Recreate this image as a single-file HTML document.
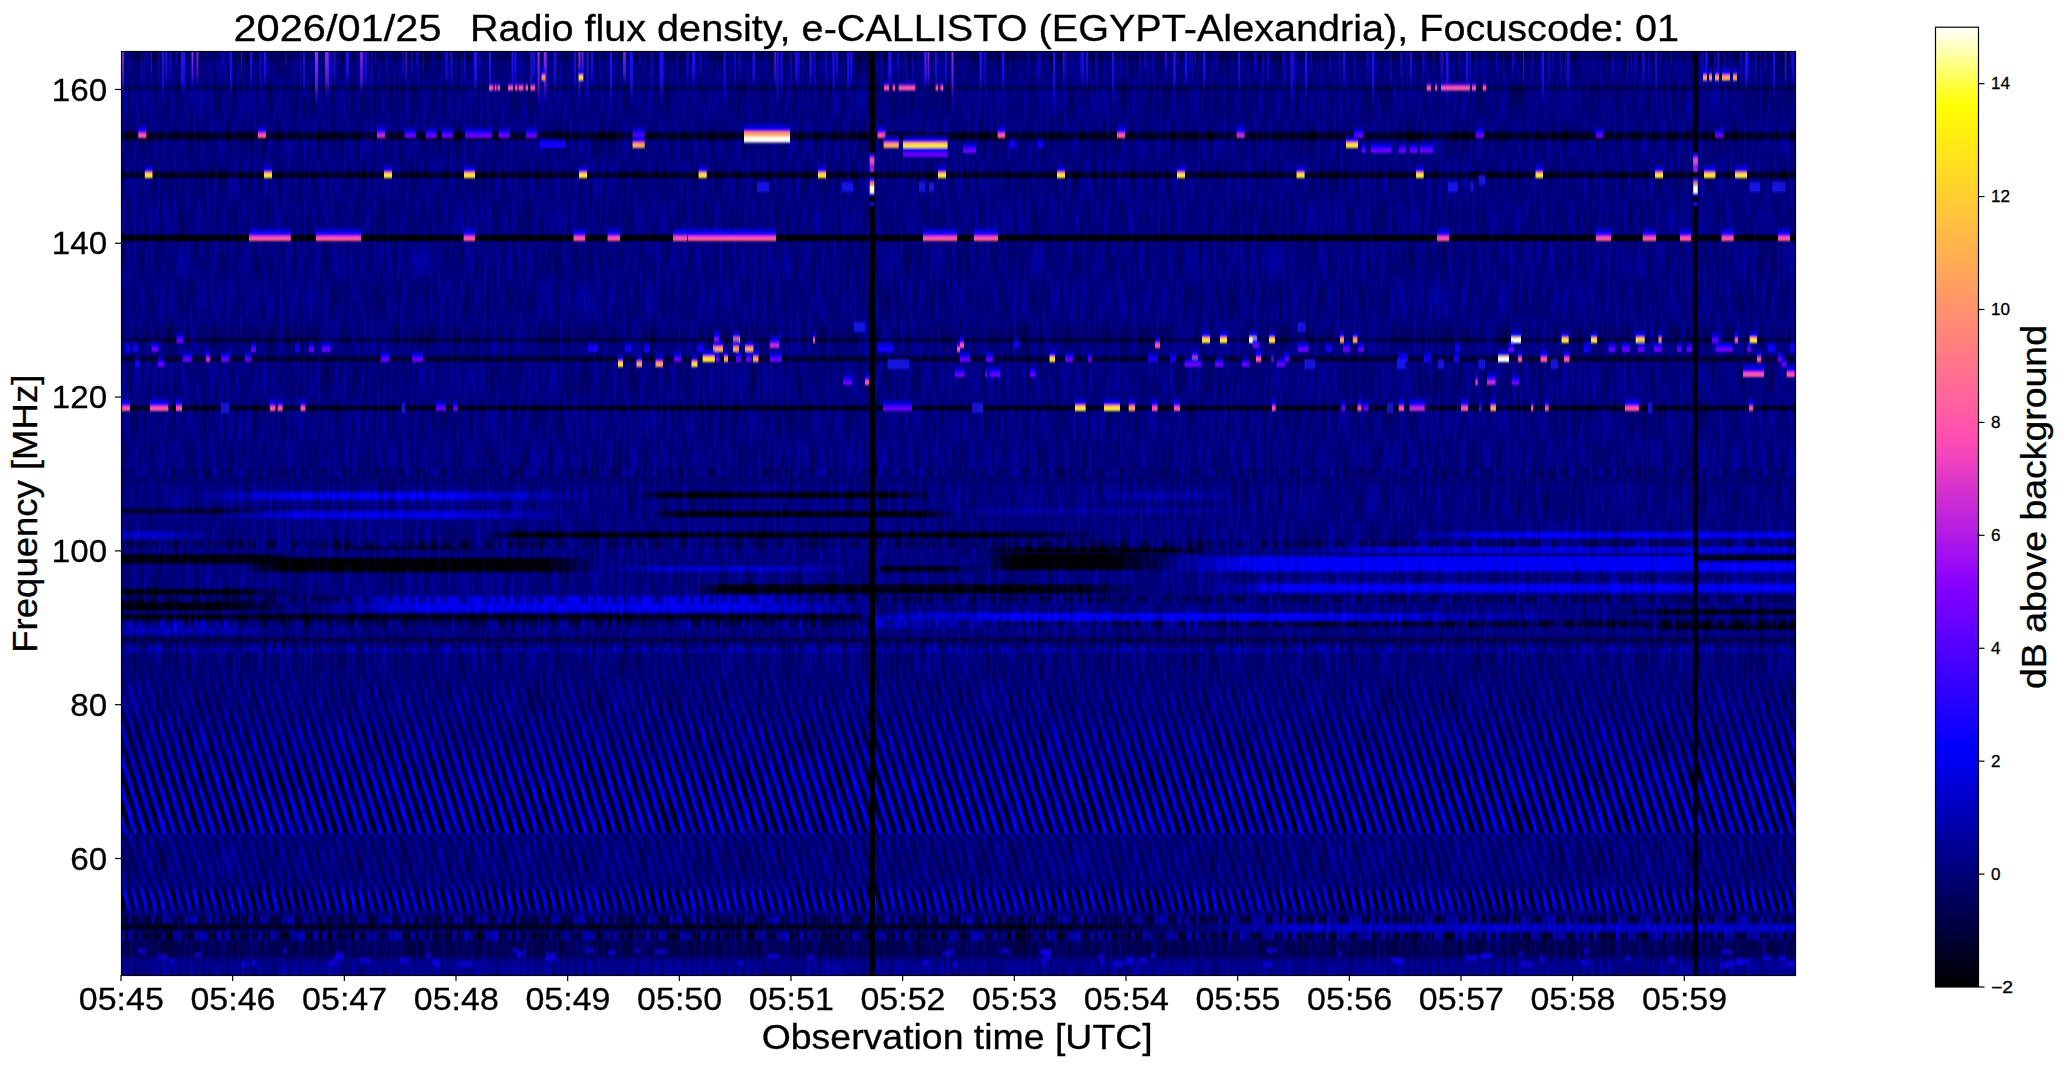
<!DOCTYPE html>
<html><head><meta charset="utf-8"><title>e-CALLISTO spectrogram</title>
<style>html,body{margin:0;padding:0;background:#fff;width:2066px;height:1067px;overflow:hidden}</style>
</head><body>
<svg width="2066" height="1067" viewBox="0 0 2066 1067" style="position:absolute;left:0;top:0"><defs><linearGradient id="cbar" x1="0" y1="0" x2="0" y2="1"><stop offset="0.0000" stop-color="#ffffff"/><stop offset="0.0167" stop-color="#ffffca"/><stop offset="0.0333" stop-color="#ffff95"/><stop offset="0.0500" stop-color="#ffff60"/><stop offset="0.0667" stop-color="#ffff2a"/><stop offset="0.0833" stop-color="#fffd02"/><stop offset="0.1000" stop-color="#fff50a"/><stop offset="0.1167" stop-color="#ffec13"/><stop offset="0.1333" stop-color="#ffe41b"/><stop offset="0.1500" stop-color="#ffdb24"/><stop offset="0.1667" stop-color="#ffd32c"/><stop offset="0.1833" stop-color="#ffca35"/><stop offset="0.2000" stop-color="#ffc23d"/><stop offset="0.2167" stop-color="#ffb946"/><stop offset="0.2333" stop-color="#ffb14e"/><stop offset="0.2500" stop-color="#ffa857"/><stop offset="0.2667" stop-color="#ffa05f"/><stop offset="0.2833" stop-color="#ff9768"/><stop offset="0.3000" stop-color="#ff8f70"/><stop offset="0.3167" stop-color="#ff8679"/><stop offset="0.3333" stop-color="#ff7e81"/><stop offset="0.3500" stop-color="#ff758a"/><stop offset="0.3667" stop-color="#ff6d92"/><stop offset="0.3833" stop-color="#ff649b"/><stop offset="0.4000" stop-color="#ff5ca3"/><stop offset="0.4167" stop-color="#ff53ac"/><stop offset="0.4333" stop-color="#fc4bb4"/><stop offset="0.4500" stop-color="#ef42bd"/><stop offset="0.4667" stop-color="#e23ac5"/><stop offset="0.4833" stop-color="#d431ce"/><stop offset="0.5000" stop-color="#c729d6"/><stop offset="0.5167" stop-color="#ba20df"/><stop offset="0.5333" stop-color="#ad18e7"/><stop offset="0.5500" stop-color="#9f0ff0"/><stop offset="0.5667" stop-color="#9207f8"/><stop offset="0.5833" stop-color="#8500ff"/><stop offset="0.6000" stop-color="#7800ff"/><stop offset="0.6167" stop-color="#6a00ff"/><stop offset="0.6333" stop-color="#5d00ff"/><stop offset="0.6500" stop-color="#5000ff"/><stop offset="0.6667" stop-color="#4200ff"/><stop offset="0.6833" stop-color="#3500ff"/><stop offset="0.7000" stop-color="#2800ff"/><stop offset="0.7167" stop-color="#1b00ff"/><stop offset="0.7333" stop-color="#0d00ff"/><stop offset="0.7500" stop-color="#0000ff"/><stop offset="0.7667" stop-color="#0000ee"/><stop offset="0.7833" stop-color="#0000dd"/><stop offset="0.8000" stop-color="#0000cc"/><stop offset="0.8167" stop-color="#0000bb"/><stop offset="0.8333" stop-color="#0000aa"/><stop offset="0.8500" stop-color="#000099"/><stop offset="0.8667" stop-color="#000088"/><stop offset="0.8833" stop-color="#000077"/><stop offset="0.9000" stop-color="#000066"/><stop offset="0.9167" stop-color="#000055"/><stop offset="0.9333" stop-color="#000044"/><stop offset="0.9500" stop-color="#000033"/><stop offset="0.9667" stop-color="#000022"/><stop offset="0.9833" stop-color="#000011"/><stop offset="1.0000" stop-color="#000000"/></linearGradient></defs><defs><filter id="vb" x="-1%" y="-5%" width="102%" height="110%"><feGaussianBlur stdDeviation="0 1.3"/></filter><clipPath id="axclip"><rect x="121" y="51" width="1675" height="924"/></clipPath><linearGradient id="s0" x1="0" y1="0" x2="1" y2="0"><stop offset="0" stop-color="#0000eb" stop-opacity="0"/><stop offset="0.244" stop-color="#0000eb"/><stop offset="0.634" stop-color="#0000eb"/><stop offset="1" stop-color="#0000eb" stop-opacity="0"/></linearGradient><linearGradient id="s1" x1="0" y1="0" x2="1" y2="0"><stop offset="0" stop-color="#00000f" stop-opacity="0"/><stop offset="0.100" stop-color="#00000f"/><stop offset="0.866" stop-color="#00000f"/><stop offset="1" stop-color="#00000f" stop-opacity="0"/></linearGradient><linearGradient id="s2" x1="0" y1="0" x2="1" y2="0"><stop offset="0" stop-color="#0000a5" stop-opacity="0"/><stop offset="0.353" stop-color="#0000a5"/><stop offset="0.647" stop-color="#0000a5"/><stop offset="1" stop-color="#0000a5" stop-opacity="0"/></linearGradient><linearGradient id="s3" x1="0" y1="0" x2="1" y2="0"><stop offset="0" stop-color="#000028" stop-opacity="1"/><stop offset="0.000" stop-color="#000028"/><stop offset="0.556" stop-color="#000028"/><stop offset="1" stop-color="#000028" stop-opacity="0"/></linearGradient><linearGradient id="s4" x1="0" y1="0" x2="1" y2="0"><stop offset="0" stop-color="#0000e1" stop-opacity="0"/><stop offset="0.222" stop-color="#0000e1"/><stop offset="0.639" stop-color="#0000e1"/><stop offset="1" stop-color="#0000e1" stop-opacity="0"/></linearGradient><linearGradient id="s5" x1="0" y1="0" x2="1" y2="0"><stop offset="0" stop-color="#00000f" stop-opacity="0"/><stop offset="0.096" stop-color="#00000f"/><stop offset="0.872" stop-color="#00000f"/><stop offset="1" stop-color="#00000f" stop-opacity="0"/></linearGradient><linearGradient id="s6" x1="0" y1="0" x2="1" y2="0"><stop offset="0" stop-color="#0000a0" stop-opacity="0"/><stop offset="0.136" stop-color="#0000a0"/><stop offset="0.796" stop-color="#0000a0"/><stop offset="1" stop-color="#0000a0" stop-opacity="0"/></linearGradient><linearGradient id="s7" x1="0" y1="0" x2="1" y2="0"><stop offset="0" stop-color="#0000c8" stop-opacity="1"/><stop offset="0.000" stop-color="#0000c8"/><stop offset="0.400" stop-color="#0000c8"/><stop offset="1" stop-color="#0000c8" stop-opacity="0"/></linearGradient><linearGradient id="s8" x1="0" y1="0" x2="1" y2="0"><stop offset="0" stop-color="#00000a" stop-opacity="0"/><stop offset="0.049" stop-color="#00000a"/><stop offset="0.837" stop-color="#00000a"/><stop offset="1" stop-color="#00000a" stop-opacity="0"/></linearGradient><linearGradient id="s9" x1="0" y1="0" x2="1" y2="0"><stop offset="0" stop-color="#0000f0" stop-opacity="0"/><stop offset="0.253" stop-color="#0000f0"/><stop offset="1.000" stop-color="#0000f0"/><stop offset="1" stop-color="#0000f0" stop-opacity="1"/></linearGradient><linearGradient id="s10" x1="0" y1="0" x2="1" y2="0"><stop offset="0" stop-color="#00003c" stop-opacity="0"/><stop offset="0.235" stop-color="#00003c"/><stop offset="0.765" stop-color="#00003c"/><stop offset="1" stop-color="#00003c" stop-opacity="0"/></linearGradient><linearGradient id="s11" x1="0" y1="0" x2="1" y2="0"><stop offset="0" stop-color="#00000a" stop-opacity="0"/><stop offset="0.165" stop-color="#00000a"/><stop offset="0.794" stop-color="#00000a"/><stop offset="1" stop-color="#00000a" stop-opacity="0"/></linearGradient><linearGradient id="s12" x1="0" y1="0" x2="1" y2="0"><stop offset="0" stop-color="#0000d7" stop-opacity="0"/><stop offset="0.160" stop-color="#0000d7"/><stop offset="1.000" stop-color="#0000d7"/><stop offset="1" stop-color="#0000d7" stop-opacity="1"/></linearGradient><linearGradient id="s13" x1="0" y1="0" x2="1" y2="0"><stop offset="0" stop-color="#00000a" stop-opacity="1"/><stop offset="0.000" stop-color="#00000a"/><stop offset="0.778" stop-color="#00000a"/><stop offset="1" stop-color="#00000a" stop-opacity="0"/></linearGradient><linearGradient id="s14" x1="0" y1="0" x2="1" y2="0"><stop offset="0" stop-color="#000003" stop-opacity="0"/><stop offset="0.111" stop-color="#000003"/><stop offset="0.833" stop-color="#000003"/><stop offset="1" stop-color="#000003" stop-opacity="0"/></linearGradient><linearGradient id="s15" x1="0" y1="0" x2="1" y2="0"><stop offset="0" stop-color="#0000c8" stop-opacity="0"/><stop offset="0.224" stop-color="#0000c8"/><stop offset="0.627" stop-color="#0000c8"/><stop offset="1" stop-color="#0000c8" stop-opacity="0"/></linearGradient><linearGradient id="s16" x1="0" y1="0" x2="1" y2="0"><stop offset="0" stop-color="#000014" stop-opacity="1"/><stop offset="0.000" stop-color="#000014"/><stop offset="0.608" stop-color="#000014"/><stop offset="1" stop-color="#000014" stop-opacity="0"/></linearGradient><linearGradient id="s17" x1="0" y1="0" x2="1" y2="0"><stop offset="0" stop-color="#000003" stop-opacity="0"/><stop offset="0.152" stop-color="#000003"/><stop offset="0.646" stop-color="#000003"/><stop offset="1" stop-color="#000003" stop-opacity="0"/></linearGradient><linearGradient id="s18" x1="0" y1="0" x2="1" y2="0"><stop offset="0" stop-color="#0000fa" stop-opacity="0"/><stop offset="0.170" stop-color="#0000fa"/><stop offset="1.000" stop-color="#0000fa"/><stop offset="1" stop-color="#0000fa" stop-opacity="1"/></linearGradient><linearGradient id="s19" x1="0" y1="0" x2="1" y2="0"><stop offset="0" stop-color="#00000f" stop-opacity="1"/><stop offset="0.000" stop-color="#00000f"/><stop offset="1.000" stop-color="#00000f"/><stop offset="1" stop-color="#00000f" stop-opacity="1"/></linearGradient><linearGradient id="s20" x1="0" y1="0" x2="1" y2="0"><stop offset="0" stop-color="#0000f5" stop-opacity="1"/><stop offset="0.000" stop-color="#0000f5"/><stop offset="1.000" stop-color="#0000f5"/><stop offset="1" stop-color="#0000f5" stop-opacity="1"/></linearGradient><linearGradient id="s21" x1="0" y1="0" x2="1" y2="0"><stop offset="0" stop-color="#00000f" stop-opacity="1"/><stop offset="0.000" stop-color="#00000f"/><stop offset="0.667" stop-color="#00000f"/><stop offset="1" stop-color="#00000f" stop-opacity="0"/></linearGradient><linearGradient id="s22" x1="0" y1="0" x2="1" y2="0"><stop offset="0" stop-color="#000008" stop-opacity="0"/><stop offset="0.066" stop-color="#000008"/><stop offset="0.823" stop-color="#000008"/><stop offset="1" stop-color="#000008" stop-opacity="0"/></linearGradient><linearGradient id="s23" x1="0" y1="0" x2="1" y2="0"><stop offset="0" stop-color="#0000f5" stop-opacity="0"/><stop offset="0.136" stop-color="#0000f5"/><stop offset="1.000" stop-color="#0000f5"/><stop offset="1" stop-color="#0000f5" stop-opacity="1"/></linearGradient><linearGradient id="s24" x1="0" y1="0" x2="1" y2="0"><stop offset="0" stop-color="#00000a" stop-opacity="1"/><stop offset="0.000" stop-color="#00000a"/><stop offset="0.647" stop-color="#00000a"/><stop offset="1" stop-color="#00000a" stop-opacity="0"/></linearGradient><linearGradient id="s25" x1="0" y1="0" x2="1" y2="0"><stop offset="0" stop-color="#0000eb" stop-opacity="0"/><stop offset="0.179" stop-color="#0000eb"/><stop offset="0.732" stop-color="#0000eb"/><stop offset="1" stop-color="#0000eb" stop-opacity="0"/></linearGradient><linearGradient id="s26" x1="0" y1="0" x2="1" y2="0"><stop offset="0" stop-color="#00000a" stop-opacity="1"/><stop offset="0.000" stop-color="#00000a"/><stop offset="0.973" stop-color="#00000a"/><stop offset="1" stop-color="#00000a" stop-opacity="0"/></linearGradient><linearGradient id="s27" x1="0" y1="0" x2="1" y2="0"><stop offset="0" stop-color="#0000f0" stop-opacity="0"/><stop offset="0.086" stop-color="#0000f0"/><stop offset="0.629" stop-color="#0000f0"/><stop offset="1" stop-color="#0000f0" stop-opacity="0"/></linearGradient><linearGradient id="s28" x1="0" y1="0" x2="1" y2="0"><stop offset="0" stop-color="#00000f" stop-opacity="0"/><stop offset="0.323" stop-color="#00000f"/><stop offset="1.000" stop-color="#00000f"/><stop offset="1" stop-color="#00000f" stop-opacity="1"/></linearGradient><linearGradient id="s29" x1="0" y1="0" x2="1" y2="0"><stop offset="0" stop-color="#000037" stop-opacity="0"/><stop offset="0.166" stop-color="#000037"/><stop offset="1.000" stop-color="#000037"/><stop offset="1" stop-color="#000037" stop-opacity="1"/></linearGradient><linearGradient id="s30" x1="0" y1="0" x2="1" y2="0"><stop offset="0" stop-color="#00000a" stop-opacity="0"/><stop offset="0.373" stop-color="#00000a"/><stop offset="1.000" stop-color="#00000a"/><stop offset="1" stop-color="#00000a" stop-opacity="1"/></linearGradient><linearGradient id="s31" x1="0" y1="0" x2="1" y2="0"><stop offset="0" stop-color="#0000b4" stop-opacity="1"/><stop offset="0.000" stop-color="#0000b4"/><stop offset="0.360" stop-color="#0000b4"/><stop offset="1" stop-color="#0000b4" stop-opacity="0"/></linearGradient><linearGradient id="s32" x1="0" y1="0" x2="1" y2="0"><stop offset="0" stop-color="#0000b4" stop-opacity="1"/><stop offset="0.000" stop-color="#0000b4"/><stop offset="0.412" stop-color="#0000b4"/><stop offset="1" stop-color="#0000b4" stop-opacity="0"/></linearGradient><linearGradient id="s33" x1="0" y1="0" x2="1" y2="0"><stop offset="0" stop-color="#0000c8" stop-opacity="1"/><stop offset="0.000" stop-color="#0000c8"/><stop offset="0.360" stop-color="#0000c8"/><stop offset="1" stop-color="#0000c8" stop-opacity="0"/></linearGradient><linearGradient id="s34" x1="0" y1="0" x2="1" y2="0"><stop offset="0" stop-color="#000019" stop-opacity="1"/><stop offset="0.000" stop-color="#000019"/><stop offset="0.925" stop-color="#000019"/><stop offset="1" stop-color="#000019" stop-opacity="0"/></linearGradient><linearGradient id="s35" x1="0" y1="0" x2="1" y2="0"><stop offset="0" stop-color="#0000d2" stop-opacity="0"/><stop offset="0.168" stop-color="#0000d2"/><stop offset="1.000" stop-color="#0000d2"/><stop offset="1" stop-color="#0000d2" stop-opacity="1"/></linearGradient><linearGradient id="s36" x1="0" y1="0" x2="1" y2="0"><stop offset="0" stop-color="#000096" stop-opacity="1"/><stop offset="0.000" stop-color="#000096"/><stop offset="1.000" stop-color="#000096"/><stop offset="1" stop-color="#000096" stop-opacity="1"/></linearGradient><filter id="tex" x="0" y="0" width="100%" height="100%" color-interpolation-filters="sRGB"><feTurbulence type="fractalNoise" baseFrequency="0.3 0.025" numOctaves="2" seed="5" result="n"/><feColorMatrix in="n" type="matrix" values="0 0 0 0 0.5  0 0 0 0 0.5  1 0 0 0 0  0 0 0 0 1" result="nb"/><feComposite in="SourceGraphic" in2="nb" operator="arithmetic" k1="0" k2="1" k3="0.55" k4="-0.275"/></filter><filter id="dblur" x="-2%" y="-5%" width="104%" height="110%"><feGaussianBlur stdDeviation="0.7 0.9"/></filter><linearGradient id="db" x1="0" y1="0" x2="0" y2="1"><stop offset="0" stop-color="#0000ff" stop-opacity="0"/><stop offset="0.5" stop-color="#0a00ff" stop-opacity="0.8"/><stop offset="0.8" stop-color="#1400ff"/><stop offset="1" stop-color="#1400ff"/></linearGradient><linearGradient id="dp" x1="0" y1="0" x2="0" y2="1"><stop offset="0" stop-color="#0000ff" stop-opacity="0"/><stop offset="0.45" stop-color="#0000ff" stop-opacity="0.9"/><stop offset="0.75" stop-color="#6a00ff"/><stop offset="1" stop-color="#6a00ff"/></linearGradient><linearGradient id="dm" x1="0" y1="0" x2="0" y2="1"><stop offset="0" stop-color="#0000ff" stop-opacity="0"/><stop offset="0.25" stop-color="#0000ff" stop-opacity="0.6"/><stop offset="0.5" stop-color="#0a00ff"/><stop offset="0.62" stop-color="#5000ff"/><stop offset="0.72" stop-color="#c02ad8"/><stop offset="1" stop-color="#c02ad8"/></linearGradient><linearGradient id="dk" x1="0" y1="0" x2="0" y2="1"><stop offset="0" stop-color="#0000ff" stop-opacity="0"/><stop offset="0.25" stop-color="#0000ff" stop-opacity="0.6"/><stop offset="0.5" stop-color="#0a00ff"/><stop offset="0.62" stop-color="#8000ff"/><stop offset="0.72" stop-color="#ff58a8"/><stop offset="1" stop-color="#ff58a8"/></linearGradient><linearGradient id="do" x1="0" y1="0" x2="0" y2="1"><stop offset="0" stop-color="#0000ff" stop-opacity="0"/><stop offset="0.25" stop-color="#0000ff" stop-opacity="0.6"/><stop offset="0.5" stop-color="#0a00ff"/><stop offset="0.62" stop-color="#e040b0"/><stop offset="0.72" stop-color="#ffa860"/><stop offset="1" stop-color="#ffa860"/></linearGradient><linearGradient id="dy" x1="0" y1="0" x2="0" y2="1"><stop offset="0" stop-color="#0000ff" stop-opacity="0"/><stop offset="0.25" stop-color="#0000ff" stop-opacity="0.6"/><stop offset="0.5" stop-color="#0a00ff"/><stop offset="0.62" stop-color="#ff6898"/><stop offset="0.72" stop-color="#ffe838"/><stop offset="1" stop-color="#ffe838"/></linearGradient><linearGradient id="dw" x1="0" y1="0" x2="0" y2="1"><stop offset="0" stop-color="#0000ff" stop-opacity="0"/><stop offset="0.25" stop-color="#0000ff" stop-opacity="0.6"/><stop offset="0.5" stop-color="#0a00ff"/><stop offset="0.62" stop-color="#ffc040"/><stop offset="0.72" stop-color="#ffffff"/><stop offset="1" stop-color="#ffffff"/></linearGradient><linearGradient id="sg" x1="0" y1="0" x2="1" y2="0"><stop offset="0" stop-color="#000010" stop-opacity="0.95"/><stop offset="0.28" stop-color="#000080" stop-opacity="0"/><stop offset="0.55" stop-color="#1818ff" stop-opacity="0.9"/><stop offset="0.8" stop-color="#000080" stop-opacity="0"/><stop offset="1" stop-color="#000010" stop-opacity="0.95"/></linearGradient><linearGradient id="st1" gradientUnits="userSpaceOnUse" x1="0" y1="0" x2="9.8" y2="0" spreadMethod="repeat" gradientTransform="skewX(17.2)"><stop offset="0.00" stop-color="#000000" stop-opacity="1.00"/><stop offset="0.10" stop-color="#000000" stop-opacity="0.89"/><stop offset="0.20" stop-color="#000000" stop-opacity="0.34"/><stop offset="0.30" stop-color="#0808ff" stop-opacity="0.31"/><stop offset="0.40" stop-color="#0808ff" stop-opacity="0.81"/><stop offset="0.50" stop-color="#0808ff" stop-opacity="1.00"/><stop offset="0.60" stop-color="#0808ff" stop-opacity="0.81"/><stop offset="0.70" stop-color="#0808ff" stop-opacity="0.31"/><stop offset="0.80" stop-color="#000000" stop-opacity="0.34"/><stop offset="0.90" stop-color="#000000" stop-opacity="0.89"/><stop offset="1.00" stop-color="#000000" stop-opacity="1.00"/></linearGradient><linearGradient id="st2" gradientUnits="userSpaceOnUse" x1="4" y1="0" x2="13.8" y2="0" spreadMethod="repeat" gradientTransform="skewX(17.2)"><stop offset="0.00" stop-color="#000000" stop-opacity="1.00"/><stop offset="0.10" stop-color="#000000" stop-opacity="0.89"/><stop offset="0.20" stop-color="#000000" stop-opacity="0.34"/><stop offset="0.30" stop-color="#0808ff" stop-opacity="0.31"/><stop offset="0.40" stop-color="#0808ff" stop-opacity="0.81"/><stop offset="0.50" stop-color="#0808ff" stop-opacity="1.00"/><stop offset="0.60" stop-color="#0808ff" stop-opacity="0.81"/><stop offset="0.70" stop-color="#0808ff" stop-opacity="0.31"/><stop offset="0.80" stop-color="#000000" stop-opacity="0.34"/><stop offset="0.90" stop-color="#000000" stop-opacity="0.89"/><stop offset="1.00" stop-color="#000000" stop-opacity="1.00"/></linearGradient><linearGradient id="st3" gradientUnits="userSpaceOnUse" x1="2" y1="0" x2="10.7" y2="0" spreadMethod="repeat" gradientTransform="skewX(13.5)"><stop offset="0.00" stop-color="#000000" stop-opacity="1.00"/><stop offset="0.10" stop-color="#000000" stop-opacity="0.89"/><stop offset="0.20" stop-color="#000000" stop-opacity="0.34"/><stop offset="0.30" stop-color="#0808ff" stop-opacity="0.31"/><stop offset="0.40" stop-color="#0808ff" stop-opacity="0.81"/><stop offset="0.50" stop-color="#0808ff" stop-opacity="1.00"/><stop offset="0.60" stop-color="#0808ff" stop-opacity="0.81"/><stop offset="0.70" stop-color="#0808ff" stop-opacity="0.31"/><stop offset="0.80" stop-color="#000000" stop-opacity="0.34"/><stop offset="0.90" stop-color="#000000" stop-opacity="0.89"/><stop offset="1.00" stop-color="#000000" stop-opacity="1.00"/></linearGradient><pattern id="spots" patternUnits="userSpaceOnUse" width="97" height="200"><rect x="0.0" y="0" width="2.0" height="8" fill="#000000" fill-opacity="0.75"/><rect x="3.5" y="0" width="2.8" height="8" fill="#000000" fill-opacity="0.61"/><rect x="8.3" y="0" width="2.0" height="8" fill="#000000" fill-opacity="1.00"/><rect x="11.5" y="0" width="3.2" height="8" fill="#000000" fill-opacity="0.86"/><rect x="15.1" y="1" width="2.8" height="6" fill="#0800ff" fill-opacity="0.51"/><rect x="19.7" y="0" width="2.8" height="8" fill="#000000" fill-opacity="0.90"/><rect x="24.0" y="0" width="2.1" height="8" fill="#000000" fill-opacity="0.95"/><rect x="27.3" y="1" width="2.9" height="6" fill="#0800ff" fill-opacity="0.59"/><rect x="32.5" y="1" width="2.3" height="6" fill="#0800ff" fill-opacity="0.48"/><rect x="37.2" y="0" width="3.3" height="8" fill="#000000" fill-opacity="0.65"/><rect x="41.0" y="0" width="3.4" height="8" fill="#000000" fill-opacity="0.85"/><rect x="45.2" y="0" width="2.5" height="8" fill="#000000" fill-opacity="0.74"/><rect x="49.1" y="1" width="2.7" height="6" fill="#0800ff" fill-opacity="0.57"/><rect x="54.1" y="1" width="3.2" height="6" fill="#0800ff" fill-opacity="0.57"/><rect x="57.7" y="1" width="3.2" height="6" fill="#0800ff" fill-opacity="0.66"/><rect x="62.4" y="0" width="2.9" height="8" fill="#000000" fill-opacity="0.93"/><rect x="66.7" y="0" width="2.1" height="8" fill="#000000" fill-opacity="0.94"/><rect x="71.3" y="1" width="1.7" height="6" fill="#0800ff" fill-opacity="0.46"/><rect x="73.3" y="1" width="2.1" height="6" fill="#0800ff" fill-opacity="0.65"/><rect x="75.5" y="0" width="2.7" height="8" fill="#000000" fill-opacity="0.89"/><rect x="79.1" y="1" width="3.3" height="6" fill="#0800ff" fill-opacity="0.50"/><rect x="84.9" y="0" width="2.1" height="8" fill="#000000" fill-opacity="0.84"/><rect x="87.1" y="0" width="1.9" height="8" fill="#000000" fill-opacity="0.84"/><rect x="89.3" y="1" width="1.6" height="6" fill="#0800ff" fill-opacity="0.43"/><rect x="93.3" y="0" width="3.3" height="8" fill="#000000" fill-opacity="0.78"/></pattern><filter id="spblur" x="0" y="-20%" width="100%" height="140%"><feGaussianBlur stdDeviation="0.6 1"/></filter><filter id="sblur" x="0" y="0" width="100%" height="100%"><feGaussianBlur stdDeviation="1.3 0.5"/></filter><linearGradient id="mg1" x1="0" y1="0" x2="0" y2="1"><stop offset="0" stop-color="#fff" stop-opacity="0"/><stop offset="0.25" stop-color="#fff" stop-opacity="0.25"/><stop offset="0.5" stop-color="#fff" stop-opacity="0.55"/><stop offset="0.7" stop-color="#fff" stop-opacity="0.85"/><stop offset="1" stop-color="#fff" stop-opacity="0.9"/></linearGradient><mask id="m1" maskUnits="userSpaceOnUse" x="121" y="655" width="1675" height="180"><rect x="121" y="655" width="1675" height="179" fill="url(#mg1)"/></mask><linearGradient id="sfade" x1="0" y1="0" x2="0" y2="1"><stop offset="0" stop-color="#2a10ff" stop-opacity="1"/><stop offset="0.6" stop-color="#2010ff" stop-opacity="0.75"/><stop offset="1" stop-color="#1000ff" stop-opacity="0"/></linearGradient><linearGradient id="sfadep" x1="0" y1="0" x2="0" y2="1"><stop offset="0" stop-color="#a030ff" stop-opacity="1"/><stop offset="0.6" stop-color="#7020ff" stop-opacity="0.75"/><stop offset="1" stop-color="#1000ff" stop-opacity="0"/></linearGradient></defs><g clip-path="url(#axclip)"><g filter="url(#tex)"><rect x="121" y="51" width="1675" height="924" fill="#000080"/><g filter="url(#vb)"><rect x="121" y="53.0" width="1675" height="8" fill="#000064"/><rect x="121" y="86.0" width="1675" height="4" fill="#000050"/><rect x="121" y="132.0" width="1675" height="8" fill="#000028"/><rect x="121" y="172.0" width="1675" height="6" fill="#000023"/><rect x="121" y="235.0" width="1675" height="6" fill="#000005"/><rect x="121" y="327.0" width="1675" height="10" fill="#000073"/><rect x="121" y="338.0" width="1675" height="4" fill="#000037"/><rect x="121" y="356.5" width="1675" height="5" fill="#00002d"/><rect x="121" y="405.5" width="1675" height="5" fill="#00001e"/><rect x="121" y="476.0" width="1675" height="8" fill="#000073"/><rect x="121" y="541.0" width="1675" height="6" fill="#00006e"/><rect x="121" y="596.0" width="1675" height="6" fill="#000069"/><rect x="121" y="619.5" width="1675" height="5" fill="#000064"/><rect x="121" y="637.5" width="1675" height="5" fill="#000046"/><rect x="121" y="648.0" width="1675" height="4" fill="#0000a5"/><rect x="121" y="922.0" width="1675" height="8" fill="#000073"/><rect x="121" y="941.0" width="1675" height="16" fill="#00005f"/><rect x="190" y="492.0" width="410" height="8" fill="url(#s0)"/><rect x="636" y="492.0" width="299" height="6" fill="url(#s1)"/><rect x="1080" y="492.0" width="170" height="8" fill="url(#s2)"/><rect x="120" y="508.5" width="180" height="5" fill="url(#s3)"/><rect x="220" y="511.0" width="360" height="8" fill="url(#s4)"/><rect x="648" y="511.0" width="312" height="6" fill="url(#s5)"/><rect x="956" y="508.5" width="294" height="5" fill="url(#s6)"/><rect x="120" y="531.0" width="100" height="8" fill="url(#s7)"/><rect x="486" y="532.0" width="614" height="6" fill="url(#s8)"/><rect x="1400" y="532.0" width="396" height="6" fill="url(#s9)"/><rect x="320" y="545.5" width="170" height="5" fill="url(#s10)"/><rect x="977" y="547.0" width="243" height="6" fill="url(#s11)"/><rect x="1296" y="547.0" width="500" height="6" fill="url(#s12)"/><rect x="120" y="554.5" width="180" height="9" fill="url(#s13)"/><rect x="240" y="558.0" width="360" height="14" fill="url(#s14)"/><rect x="600" y="566.0" width="268" height="6" fill="url(#s15)"/><rect x="880" y="566.0" width="102" height="6" fill="url(#s16)"/><rect x="982" y="554.0" width="198" height="16" fill="url(#s17)"/><rect x="1165" y="556.5" width="528" height="15" fill="url(#s18)"/><rect x="1698" y="555.5" width="98" height="5" fill="url(#s19)"/><rect x="1698" y="562.0" width="98" height="10" fill="url(#s20)"/><rect x="120" y="589.0" width="180" height="6" fill="url(#s21)"/><rect x="694" y="584.5" width="452" height="9" fill="url(#s22)"/><rect x="1207" y="583.5" width="589" height="9" fill="url(#s23)"/><rect x="120" y="601.5" width="170" height="9" fill="url(#s24)"/><rect x="320" y="596.0" width="560" height="16" fill="url(#s25)"/><rect x="120" y="614.5" width="750" height="5" fill="url(#s26)"/><rect x="880" y="613.0" width="700" height="8" fill="url(#s27)"/><rect x="1610" y="609.5" width="186" height="5" fill="url(#s28)"/><rect x="1195" y="621.0" width="601" height="6" fill="url(#s29)"/><rect x="1635" y="624.5" width="161" height="5" fill="url(#s30)"/><rect x="875" y="615.0" width="125" height="10" fill="url(#s31)"/><rect x="120" y="622.0" width="170" height="12" fill="url(#s32)"/><rect x="875" y="616.0" width="125" height="12" fill="url(#s33)"/><rect x="120" y="924.5" width="1060" height="5" fill="url(#s34)"/><rect x="1200" y="924.0" width="596" height="8" fill="url(#s35)"/><rect x="120" y="961.0" width="1676" height="14" fill="url(#s36)"/><rect x="121" y="655" width="1675" height="320" fill="#000000" fill-opacity="0.06"/><g mask="url(#m1)"><rect x="121" y="655" width="1675" height="179" fill="url(#st1)"/></g><rect x="121" y="834" width="1675" height="54" fill="url(#st2)" fill-opacity="0.22"/><linearGradient id="mg3" x1="0" y1="0" x2="0" y2="1"><stop offset="0" stop-color="#fff" stop-opacity="0"/><stop offset="0.3" stop-color="#fff" stop-opacity="0.9"/><stop offset="0.75" stop-color="#fff" stop-opacity="0.9"/><stop offset="1" stop-color="#fff" stop-opacity="0"/></linearGradient><mask id="m3" maskUnits="userSpaceOnUse" x="121" y="884" width="1675" height="32"><rect x="121" y="884" width="1675" height="31" fill="url(#mg3)"/></mask><g mask="url(#m3)"><rect x="121" y="884" width="1675" height="31" fill="url(#st3)"/></g><rect x="24" y="0" width="1772" height="7" fill="url(#spots)" fill-opacity="0.9" filter="url(#spblur)" transform="translate(39 916)"/><rect x="24" y="0" width="1772" height="8" fill="url(#spots)" fill-opacity="0.9" filter="url(#spblur)" transform="translate(49 932)"/><rect x="24" y="0" width="1772" height="6" fill="url(#spots)" fill-opacity="0.5" filter="url(#spblur)" transform="translate(35 541)"/><rect x="24" y="0" width="1772" height="7" fill="url(#spots)" fill-opacity="0.5" filter="url(#spblur)" transform="translate(33 596)"/><rect x="24" y="0" width="1772" height="7" fill="url(#spots)" fill-opacity="0.5" filter="url(#spblur)" transform="translate(48 620)"/><rect x="24" y="0" width="1772" height="6" fill="url(#spots)" fill-opacity="0.45" filter="url(#spblur)" transform="translate(87 469)"/><rect x="24" y="0" width="1772" height="5" fill="url(#spots)" fill-opacity="0.5" filter="url(#spblur)" transform="translate(3 645)"/></g></g><rect x="122.0" y="51" width="2.0" height="47" fill="url(#sfadep)" fill-opacity="0.89"/><rect x="162.2" y="51" width="2.0" height="55" fill="url(#sfade)" fill-opacity="0.90"/><rect x="165.3" y="51" width="2.0" height="38" fill="url(#sfade)" fill-opacity="0.80"/><rect x="181.0" y="51" width="4.0" height="48" fill="url(#sfade)" fill-opacity="0.90"/><rect x="191.5" y="51" width="2.0" height="41" fill="url(#sfadep)" fill-opacity="0.90"/><rect x="196.5" y="51" width="2.0" height="39" fill="url(#sfadep)" fill-opacity="0.80"/><rect x="229.8" y="51" width="2.0" height="51" fill="url(#sfade)" fill-opacity="0.95"/><rect x="250.0" y="51" width="2.0" height="39" fill="url(#sfade)" fill-opacity="0.83"/><rect x="264.0" y="51" width="2.0" height="39" fill="url(#sfade)" fill-opacity="0.95"/><rect x="303.0" y="51" width="2.0" height="52" fill="url(#sfade)" fill-opacity="0.76"/><rect x="315.0" y="51" width="3.0" height="59" fill="url(#sfadep)" fill-opacity="0.99"/><rect x="325.0" y="51" width="4.0" height="51" fill="url(#sfadep)" fill-opacity="0.90"/><rect x="346.1" y="51" width="2.0" height="40" fill="url(#sfade)" fill-opacity="0.90"/><rect x="347.2" y="51" width="2.0" height="29" fill="url(#sfade)" fill-opacity="0.80"/><rect x="360.0" y="51" width="3.0" height="49" fill="url(#sfadep)" fill-opacity="0.76"/><rect x="365.0" y="51" width="2.0" height="41" fill="url(#sfade)" fill-opacity="0.81"/><rect x="445.5" y="51" width="2.0" height="38" fill="url(#sfade)" fill-opacity="0.90"/><rect x="450.5" y="51" width="2.0" height="38" fill="url(#sfade)" fill-opacity="0.80"/><rect x="474.0" y="51" width="3.0" height="47" fill="url(#sfade)" fill-opacity="0.96"/><rect x="489.0" y="51" width="2.0" height="48" fill="url(#sfade)" fill-opacity="0.91"/><rect x="511.5" y="51" width="2.0" height="47" fill="url(#sfade)" fill-opacity="0.90"/><rect x="514.5" y="51" width="2.0" height="42" fill="url(#sfade)" fill-opacity="0.80"/><rect x="530.5" y="51" width="2.0" height="46" fill="url(#sfade)" fill-opacity="0.90"/><rect x="533.0" y="51" width="2.0" height="35" fill="url(#sfade)" fill-opacity="0.80"/><rect x="537.6" y="51" width="2.0" height="59" fill="url(#sfadep)" fill-opacity="1.00"/><rect x="543.7" y="51" width="3.0" height="55" fill="url(#sfadep)" fill-opacity="0.93"/><rect x="554.0" y="51" width="2.0" height="44" fill="url(#sfade)" fill-opacity="0.81"/><rect x="574.0" y="51" width="2.0" height="43" fill="url(#sfade)" fill-opacity="0.77"/><rect x="578.5" y="51" width="2.0" height="52" fill="url(#sfadep)" fill-opacity="0.90"/><rect x="581.5" y="51" width="2.0" height="37" fill="url(#sfadep)" fill-opacity="0.80"/><rect x="586.5" y="51" width="2.0" height="54" fill="url(#sfade)" fill-opacity="0.90"/><rect x="591.0" y="51" width="2.0" height="37" fill="url(#sfade)" fill-opacity="0.80"/><rect x="610.0" y="51" width="2.0" height="58" fill="url(#sfade)" fill-opacity="0.96"/><rect x="623.0" y="51" width="3.0" height="37" fill="url(#sfadep)" fill-opacity="0.80"/><rect x="630.0" y="51" width="3.0" height="57" fill="url(#sfade)" fill-opacity="0.87"/><rect x="659.6" y="51" width="4.0" height="59" fill="url(#sfade)" fill-opacity="0.85"/><rect x="692.0" y="51" width="3.0" height="39" fill="url(#sfade)" fill-opacity="0.91"/><rect x="723.6" y="51" width="2.0" height="54" fill="url(#sfade)" fill-opacity="0.82"/><rect x="753.0" y="51" width="2.0" height="39" fill="url(#sfade)" fill-opacity="0.83"/><rect x="776.5" y="51" width="2.0" height="58" fill="url(#sfade)" fill-opacity="0.94"/><rect x="795.2" y="51" width="2.0" height="39" fill="url(#sfade)" fill-opacity="0.90"/><rect x="797.5" y="51" width="2.0" height="34" fill="url(#sfade)" fill-opacity="0.80"/><rect x="809.0" y="51" width="3.0" height="39" fill="url(#sfade)" fill-opacity="0.76"/><rect x="832.5" y="51" width="2.0" height="53" fill="url(#sfade)" fill-opacity="0.90"/><rect x="836.0" y="51" width="2.0" height="33" fill="url(#sfade)" fill-opacity="0.80"/><rect x="847.1" y="51" width="2.0" height="48" fill="url(#sfade)" fill-opacity="0.90"/><rect x="850.2" y="51" width="2.0" height="38" fill="url(#sfade)" fill-opacity="0.80"/><rect x="888.5" y="51" width="3.0" height="41" fill="url(#sfade)" fill-opacity="0.93"/><rect x="924.5" y="51" width="2.0" height="40" fill="url(#sfadep)" fill-opacity="0.90"/><rect x="927.5" y="51" width="2.0" height="42" fill="url(#sfadep)" fill-opacity="0.80"/><rect x="935.0" y="51" width="2.0" height="40" fill="url(#sfade)" fill-opacity="0.86"/><rect x="945.0" y="51" width="2.0" height="42" fill="url(#sfade)" fill-opacity="0.82"/><rect x="951.5" y="51" width="2.0" height="58" fill="url(#sfadep)" fill-opacity="0.95"/><rect x="980.0" y="51" width="2.0" height="44" fill="url(#sfade)" fill-opacity="0.97"/><rect x="1002.0" y="51" width="2.0" height="42" fill="url(#sfade)" fill-opacity="0.85"/><rect x="1053.0" y="51" width="2.0" height="56" fill="url(#sfade)" fill-opacity="0.91"/><rect x="1081.6" y="51" width="2.0" height="39" fill="url(#sfade)" fill-opacity="1.00"/><rect x="1086.0" y="51" width="2.0" height="42" fill="url(#sfade)" fill-opacity="0.81"/><rect x="1112.0" y="51" width="2.0" height="54" fill="url(#sfade)" fill-opacity="0.83"/><rect x="1173.0" y="51" width="3.0" height="44" fill="url(#sfade)" fill-opacity="0.77"/><rect x="1185.0" y="51" width="2.0" height="39" fill="url(#sfade)" fill-opacity="0.90"/><rect x="1203.0" y="51" width="2.0" height="42" fill="url(#sfade)" fill-opacity="0.90"/><rect x="1238.0" y="51" width="2.0" height="45" fill="url(#sfade)" fill-opacity="0.86"/><rect x="1290.5" y="51" width="2.0" height="56" fill="url(#sfade)" fill-opacity="0.90"/><rect x="1292.5" y="51" width="2.0" height="39" fill="url(#sfade)" fill-opacity="0.80"/><rect x="1305.0" y="51" width="2.0" height="50" fill="url(#sfade)" fill-opacity="0.97"/><rect x="1343.0" y="51" width="2.0" height="41" fill="url(#sfade)" fill-opacity="0.79"/><rect x="1372.0" y="51" width="2.0" height="57" fill="url(#sfade)" fill-opacity="0.95"/><rect x="1409.6" y="51" width="2.4" height="42" fill="url(#sfade)" fill-opacity="0.80"/><rect x="1446.0" y="51" width="2.6" height="53" fill="url(#sfade)" fill-opacity="0.99"/><rect x="1466.0" y="51" width="2.0" height="41" fill="url(#sfade)" fill-opacity="0.99"/><rect x="1541.8" y="51" width="2.2" height="56" fill="url(#sfade)" fill-opacity="0.90"/><rect x="1567.0" y="51" width="2.5" height="46" fill="url(#sfade)" fill-opacity="0.78"/><rect x="1642.5" y="51" width="2.0" height="38" fill="url(#sfade)" fill-opacity="0.90"/><rect x="1655.1" y="51" width="2.0" height="48" fill="url(#sfade)" fill-opacity="0.80"/><rect x="1705.5" y="51" width="2.0" height="42" fill="url(#sfade)" fill-opacity="0.90"/><rect x="1717.5" y="51" width="2.0" height="43" fill="url(#sfade)" fill-opacity="0.80"/><rect x="1745.0" y="51" width="3.0" height="43" fill="url(#sfade)" fill-opacity="0.96"/><rect x="1773.0" y="51" width="2.0" height="50" fill="url(#sfade)" fill-opacity="0.82"/><rect x="416.0" y="51" width="1.6" height="21" fill="url(#sfade)" fill-opacity="0.47"/><rect x="1546.5" y="51" width="1.5" height="27" fill="url(#sfade)" fill-opacity="0.36"/><rect x="150.7" y="51" width="1.2" height="32" fill="url(#sfadep)" fill-opacity="0.35"/><rect x="738.9" y="51" width="1.5" height="23" fill="url(#sfade)" fill-opacity="0.57"/><rect x="1760.4" y="51" width="1.5" height="40" fill="url(#sfade)" fill-opacity="0.34"/><rect x="181.6" y="51" width="1.0" height="46" fill="url(#sfade)" fill-opacity="0.59"/><rect x="158.5" y="51" width="1.5" height="33" fill="url(#sfade)" fill-opacity="0.40"/><rect x="1791.9" y="51" width="1.1" height="35" fill="url(#sfade)" fill-opacity="0.57"/><rect x="1353.9" y="51" width="1.6" height="43" fill="url(#sfade)" fill-opacity="0.41"/><rect x="1267.2" y="51" width="1.7" height="45" fill="url(#sfade)" fill-opacity="0.54"/><rect x="1565.0" y="51" width="1.5" height="38" fill="url(#sfade)" fill-opacity="0.47"/><rect x="1139.8" y="51" width="1.1" height="38" fill="url(#sfade)" fill-opacity="0.56"/><rect x="1339.1" y="51" width="1.3" height="41" fill="url(#sfade)" fill-opacity="0.43"/><rect x="1523.1" y="51" width="1.1" height="42" fill="url(#sfadep)" fill-opacity="0.48"/><rect x="926.2" y="51" width="1.2" height="40" fill="url(#sfade)" fill-opacity="0.48"/><rect x="1660.2" y="51" width="1.2" height="19" fill="url(#sfade)" fill-opacity="0.50"/><rect x="461.3" y="51" width="1.1" height="46" fill="url(#sfade)" fill-opacity="0.43"/><rect x="1612.2" y="51" width="1.3" height="39" fill="url(#sfade)" fill-opacity="0.43"/><rect x="1469.0" y="51" width="1.7" height="45" fill="url(#sfade)" fill-opacity="0.47"/><rect x="651.5" y="51" width="1.1" height="34" fill="url(#sfade)" fill-opacity="0.55"/><rect x="1310.7" y="51" width="1.8" height="27" fill="url(#sfade)" fill-opacity="0.44"/><rect x="582.5" y="51" width="1.2" height="31" fill="url(#sfade)" fill-opacity="0.45"/><rect x="649.7" y="51" width="1.7" height="48" fill="url(#sfade)" fill-opacity="0.32"/><rect x="175.6" y="51" width="1.7" height="20" fill="url(#sfade)" fill-opacity="0.47"/><rect x="639.1" y="51" width="1.6" height="20" fill="url(#sfade)" fill-opacity="0.44"/><rect x="164.3" y="51" width="1.7" height="26" fill="url(#sfade)" fill-opacity="0.31"/><rect x="1173.7" y="51" width="1.4" height="38" fill="url(#sfade)" fill-opacity="0.54"/><rect x="1723.6" y="51" width="1.5" height="25" fill="url(#sfade)" fill-opacity="0.35"/><rect x="141.0" y="51" width="1.4" height="40" fill="url(#sfade)" fill-opacity="0.38"/><rect x="700.4" y="51" width="1.6" height="35" fill="url(#sfade)" fill-opacity="0.53"/><rect x="780.2" y="51" width="1.6" height="46" fill="url(#sfade)" fill-opacity="0.58"/><rect x="1329.4" y="51" width="1.1" height="33" fill="url(#sfade)" fill-opacity="0.57"/><rect x="752.3" y="51" width="1.5" height="45" fill="url(#sfade)" fill-opacity="0.58"/><rect x="897.4" y="51" width="1.5" height="25" fill="url(#sfade)" fill-opacity="0.55"/><rect x="1194.5" y="51" width="1.6" height="25" fill="url(#sfade)" fill-opacity="0.59"/><rect x="1755.2" y="51" width="1.4" height="43" fill="url(#sfade)" fill-opacity="0.57"/><rect x="1552.2" y="51" width="1.3" height="21" fill="url(#sfade)" fill-opacity="0.47"/><rect x="1405.9" y="51" width="1.4" height="20" fill="url(#sfade)" fill-opacity="0.32"/><rect x="1458.8" y="51" width="1.1" height="29" fill="url(#sfade)" fill-opacity="0.34"/><rect x="371.3" y="51" width="1.4" height="41" fill="url(#sfade)" fill-opacity="0.51"/><rect x="1702.4" y="51" width="1.4" height="47" fill="url(#sfade)" fill-opacity="0.37"/><rect x="1002.5" y="51" width="1.2" height="41" fill="url(#sfade)" fill-opacity="0.46"/><rect x="1531.9" y="51" width="1.4" height="28" fill="url(#sfade)" fill-opacity="0.55"/><rect x="1626.9" y="51" width="1.2" height="45" fill="url(#sfade)" fill-opacity="0.46"/><rect x="1079.9" y="51" width="1.2" height="35" fill="url(#sfade)" fill-opacity="0.48"/><rect x="169.4" y="51" width="1.8" height="34" fill="url(#sfade)" fill-opacity="0.54"/><rect x="1063.0" y="51" width="1.4" height="40" fill="url(#sfadep)" fill-opacity="0.46"/><rect x="814.0" y="51" width="1.8" height="47" fill="url(#sfade)" fill-opacity="0.44"/><rect x="335.0" y="51" width="1.3" height="43" fill="url(#sfade)" fill-opacity="0.44"/><rect x="652.7" y="51" width="1.2" height="38" fill="url(#sfade)" fill-opacity="0.34"/><rect x="1424.4" y="51" width="1.0" height="25" fill="url(#sfade)" fill-opacity="0.51"/><rect x="660.9" y="51" width="1.3" height="38" fill="url(#sfade)" fill-opacity="0.52"/><rect x="328.0" y="51" width="1.4" height="27" fill="url(#sfade)" fill-opacity="0.46"/><rect x="852.4" y="51" width="1.3" height="31" fill="url(#sfade)" fill-opacity="0.35"/><rect x="464.1" y="51" width="1.5" height="38" fill="url(#sfade)" fill-opacity="0.56"/><rect x="1144.6" y="51" width="1.7" height="26" fill="url(#sfade)" fill-opacity="0.54"/><rect x="1630.5" y="51" width="1.3" height="28" fill="url(#sfade)" fill-opacity="0.37"/><rect x="1790.3" y="51" width="1.7" height="23" fill="url(#sfade)" fill-opacity="0.52"/><rect x="556.4" y="51" width="1.1" height="44" fill="url(#sfade)" fill-opacity="0.54"/><rect x="333.4" y="51" width="1.3" height="40" fill="url(#sfadep)" fill-opacity="0.36"/><rect x="1262.6" y="51" width="1.7" height="48" fill="url(#sfade)" fill-opacity="0.45"/><rect x="1389.1" y="51" width="1.4" height="40" fill="url(#sfade)" fill-opacity="0.32"/><rect x="300.3" y="51" width="1.0" height="36" fill="url(#sfade)" fill-opacity="0.47"/><rect x="367.7" y="51" width="1.1" height="25" fill="url(#sfade)" fill-opacity="0.60"/><rect x="1670.9" y="51" width="1.1" height="21" fill="url(#sfade)" fill-opacity="0.44"/><rect x="1400.1" y="51" width="1.3" height="33" fill="url(#sfade)" fill-opacity="0.43"/><rect x="1126.6" y="51" width="1.0" height="40" fill="url(#sfade)" fill-opacity="0.35"/><rect x="881.1" y="51" width="1.6" height="31" fill="url(#sfade)" fill-opacity="0.35"/><rect x="979.0" y="51" width="1.0" height="46" fill="url(#sfade)" fill-opacity="0.51"/><rect x="1560.4" y="51" width="1.5" height="31" fill="url(#sfade)" fill-opacity="0.45"/><rect x="1764.1" y="51" width="1.6" height="27" fill="url(#sfade)" fill-opacity="0.52"/><rect x="1422.2" y="51" width="1.7" height="31" fill="url(#sfade)" fill-opacity="0.56"/><rect x="1283.3" y="51" width="1.6" height="42" fill="url(#sfade)" fill-opacity="0.52"/><rect x="240.8" y="51" width="1.3" height="33" fill="url(#sfadep)" fill-opacity="0.41"/><rect x="1189.6" y="51" width="1.5" height="26" fill="url(#sfade)" fill-opacity="0.50"/><rect x="687.2" y="51" width="1.5" height="36" fill="url(#sfade)" fill-opacity="0.42"/><rect x="1792.8" y="51" width="1.5" height="40" fill="url(#sfade)" fill-opacity="0.59"/><rect x="161.1" y="51" width="1.5" height="41" fill="url(#sfade)" fill-opacity="0.42"/><rect x="207.3" y="51" width="1.2" height="30" fill="url(#sfade)" fill-opacity="0.38"/><rect x="1635.4" y="51" width="1.4" height="34" fill="url(#sfade)" fill-opacity="0.47"/><rect x="1784.8" y="51" width="1.5" height="43" fill="url(#sfadep)" fill-opacity="0.48"/><rect x="1390.9" y="51" width="1.0" height="47" fill="url(#sfade)" fill-opacity="0.44"/><rect x="405.4" y="51" width="1.4" height="37" fill="url(#sfadep)" fill-opacity="0.58"/><rect x="825.6" y="51" width="1.4" height="37" fill="url(#sfade)" fill-opacity="0.39"/><rect x="1217.0" y="51" width="1.4" height="28" fill="url(#sfade)" fill-opacity="0.39"/><rect x="146.4" y="51" width="1.2" height="20" fill="url(#sfade)" fill-opacity="0.53"/><rect x="774.2" y="51" width="1.7" height="41" fill="url(#sfadep)" fill-opacity="0.60"/><rect x="1700.2" y="51" width="1.1" height="46" fill="url(#sfade)" fill-opacity="0.44"/><rect x="1748.2" y="51" width="1.2" height="35" fill="url(#sfade)" fill-opacity="0.52"/><rect x="905.1" y="51" width="1.8" height="44" fill="url(#sfade)" fill-opacity="0.33"/><rect x="1165.5" y="51" width="1.4" height="25" fill="url(#sfadep)" fill-opacity="0.46"/><rect x="330.6" y="51" width="1.4" height="39" fill="url(#sfade)" fill-opacity="0.38"/><rect x="1095.3" y="51" width="1.3" height="42" fill="url(#sfade)" fill-opacity="0.60"/><rect x="1713.9" y="51" width="1.6" height="26" fill="url(#sfade)" fill-opacity="0.57"/><rect x="1432.8" y="51" width="1.5" height="30" fill="url(#sfade)" fill-opacity="0.51"/><rect x="1066.4" y="51" width="1.5" height="38" fill="url(#sfade)" fill-opacity="0.36"/><rect x="538.8" y="51" width="1.8" height="46" fill="url(#sfade)" fill-opacity="0.31"/><rect x="224.5" y="51" width="1.2" height="32" fill="url(#sfade)" fill-opacity="0.33"/><rect x="1027.6" y="51" width="1.1" height="22" fill="url(#sfade)" fill-opacity="0.47"/><rect x="1176.9" y="51" width="1.3" height="33" fill="url(#sfade)" fill-opacity="0.40"/><rect x="1366.9" y="51" width="1.7" height="21" fill="url(#sfade)" fill-opacity="0.54"/><rect x="1164.6" y="51" width="1.6" height="25" fill="url(#sfade)" fill-opacity="0.38"/><rect x="1475.5" y="51" width="1.3" height="39" fill="url(#sfade)" fill-opacity="0.40"/><rect x="1039.2" y="51" width="1.6" height="47" fill="url(#sfade)" fill-opacity="0.41"/><rect x="285.0" y="51" width="1.7" height="21" fill="url(#sfade)" fill-opacity="0.47"/><rect x="932.7" y="51" width="1.5" height="28" fill="url(#sfade)" fill-opacity="0.32"/><rect x="479.1" y="51" width="1.5" height="21" fill="url(#sfade)" fill-opacity="0.52"/><rect x="1281.9" y="51" width="1.2" height="23" fill="url(#sfade)" fill-opacity="0.52"/><rect x="734.9" y="51" width="1.1" height="40" fill="url(#sfade)" fill-opacity="0.58"/><rect x="1648.3" y="51" width="1.4" height="43" fill="url(#sfade)" fill-opacity="0.40"/><rect x="790.3" y="51" width="1.7" height="46" fill="url(#sfade)" fill-opacity="0.41"/><rect x="733.5" y="51" width="1.3" height="31" fill="url(#sfade)" fill-opacity="0.36"/><rect x="1064.6" y="51" width="1.6" height="35" fill="url(#sfade)" fill-opacity="0.47"/><rect x="417.9" y="51" width="1.6" height="45" fill="url(#sfade)" fill-opacity="0.31"/><rect x="984.1" y="51" width="1.4" height="36" fill="url(#sfade)" fill-opacity="0.50"/><rect x="1466.2" y="51" width="1.1" height="35" fill="url(#sfade)" fill-opacity="0.33"/><rect x="259.4" y="51" width="1.6" height="46" fill="url(#sfade)" fill-opacity="0.49"/><rect x="363.3" y="51" width="1.6" height="38" fill="url(#sfade)" fill-opacity="0.37"/><rect x="1401.1" y="51" width="1.4" height="42" fill="url(#sfade)" fill-opacity="0.40"/><rect x="1740.0" y="51" width="1.5" height="34" fill="url(#sfade)" fill-opacity="0.52"/><rect x="1305.6" y="51" width="1.7" height="31" fill="url(#sfade)" fill-opacity="0.50"/><rect x="1548.4" y="51" width="1.6" height="44" fill="url(#sfade)" fill-opacity="0.59"/><rect x="1192.3" y="51" width="1.4" height="40" fill="url(#sfade)" fill-opacity="0.43"/><rect x="825.2" y="51" width="1.1" height="41" fill="url(#sfade)" fill-opacity="0.41"/><rect x="403.0" y="51" width="1.2" height="32" fill="url(#sfade)" fill-opacity="0.59"/><rect x="221.9" y="51" width="1.2" height="22" fill="url(#sfade)" fill-opacity="0.53"/><rect x="422.7" y="51" width="1.0" height="33" fill="url(#sfade)" fill-opacity="0.57"/><rect x="183.7" y="51" width="1.1" height="25" fill="url(#sfade)" fill-opacity="0.37"/><rect x="1320.8" y="51" width="1.5" height="26" fill="url(#sfade)" fill-opacity="0.38"/><rect x="411.1" y="51" width="1.6" height="28" fill="url(#sfade)" fill-opacity="0.55"/><rect x="923.8" y="51" width="1.2" height="46" fill="url(#sfade)" fill-opacity="0.40"/><rect x="1037.1" y="51" width="1.8" height="33" fill="url(#sfade)" fill-opacity="0.31"/><rect x="1705.4" y="51" width="1.6" height="31" fill="url(#sfade)" fill-opacity="0.45"/><rect x="581.5" y="51" width="1.8" height="39" fill="url(#sfade)" fill-opacity="0.30"/><rect x="912.3" y="51" width="1.3" height="43" fill="url(#sfade)" fill-opacity="0.48"/><rect x="385.7" y="51" width="1.1" height="29" fill="url(#sfade)" fill-opacity="0.56"/><rect x="984.9" y="51" width="1.5" height="49" fill="url(#sfade)" fill-opacity="0.46"/><rect x="374.6" y="51" width="1.6" height="19" fill="url(#sfade)" fill-opacity="0.55"/><rect x="1495.9" y="51" width="1.1" height="27" fill="url(#sfade)" fill-opacity="0.33"/><rect x="924.8" y="51" width="1.4" height="48" fill="url(#sfade)" fill-opacity="0.56"/><rect x="630.0" y="51" width="1.6" height="32" fill="url(#sfade)" fill-opacity="0.33"/><rect x="1503.0" y="51" width="1.2" height="35" fill="url(#sfade)" fill-opacity="0.35"/><rect x="1512.5" y="51" width="1.2" height="28" fill="url(#sfadep)" fill-opacity="0.39"/><rect x="903.3" y="51" width="1.6" height="30" fill="url(#sfade)" fill-opacity="0.33"/><rect x="781.4" y="51" width="1.4" height="48" fill="url(#sfade)" fill-opacity="0.50"/><rect x="143.6" y="51" width="1.3" height="40" fill="url(#sfade)" fill-opacity="0.47"/><rect x="888.0" y="51" width="1.0" height="49" fill="url(#sfade)" fill-opacity="0.36"/><rect x="1151.8" y="51" width="1.2" height="30" fill="url(#sfade)" fill-opacity="0.39"/><rect x="686.4" y="51" width="1.3" height="39" fill="url(#sfade)" fill-opacity="0.36"/><rect x="1344.5" y="51" width="1.3" height="47" fill="url(#sfade)" fill-opacity="0.52"/><rect x="676.9" y="51" width="1.7" height="22" fill="url(#sfade)" fill-opacity="0.33"/><rect x="1254.8" y="51" width="1.6" height="24" fill="url(#sfade)" fill-opacity="0.55"/><rect x="1112.9" y="51" width="1.1" height="26" fill="url(#sfade)" fill-opacity="0.34"/><rect x="802.4" y="51" width="1.1" height="47" fill="url(#sfade)" fill-opacity="0.45"/><rect x="1203.9" y="51" width="1.6" height="44" fill="url(#sfade)" fill-opacity="0.40"/><rect x="811.3" y="51" width="1.0" height="31" fill="url(#sfade)" fill-opacity="0.59"/><rect x="1441.8" y="51" width="1.5" height="37" fill="url(#sfadep)" fill-opacity="0.40"/><rect x="694.5" y="51" width="1.5" height="22" fill="url(#sfade)" fill-opacity="0.45"/><rect x="1439.9" y="51" width="1.7" height="37" fill="url(#sfade)" fill-opacity="0.53"/><g filter="url(#dblur)"><rect x="489.0" y="85.5" width="4.0" height="5" fill="#ff58b0"/><rect x="489.0" y="82.0" width="4.0" height="3.5" fill="#4000ff" fill-opacity="0.6"/><rect x="494.5" y="85.5" width="2.0" height="5" fill="#ff58b0"/><rect x="494.5" y="82.0" width="2.0" height="3.5" fill="#4000ff" fill-opacity="0.6"/><rect x="497.5" y="85.5" width="2.5" height="5" fill="#ff58b0"/><rect x="497.5" y="82.0" width="2.5" height="3.5" fill="#4000ff" fill-opacity="0.6"/><rect x="508.0" y="85.5" width="5.0" height="5" fill="#ff58b0"/><rect x="508.0" y="82.0" width="5.0" height="3.5" fill="#4000ff" fill-opacity="0.6"/><rect x="515.0" y="85.5" width="2.5" height="5" fill="#ff58b0"/><rect x="515.0" y="82.0" width="2.5" height="3.5" fill="#4000ff" fill-opacity="0.6"/><rect x="518.5" y="85.5" width="5.0" height="5" fill="#ff58b0"/><rect x="518.5" y="82.0" width="5.0" height="3.5" fill="#4000ff" fill-opacity="0.6"/><rect x="525.5" y="85.5" width="2.5" height="5" fill="#ff58b0"/><rect x="525.5" y="82.0" width="2.5" height="3.5" fill="#4000ff" fill-opacity="0.6"/><rect x="530.5" y="85.5" width="4.5" height="5" fill="#ff58b0"/><rect x="530.5" y="82.0" width="4.5" height="3.5" fill="#4000ff" fill-opacity="0.6"/><rect x="884.0" y="85.5" width="5.0" height="5" fill="#ff58b0"/><rect x="884.0" y="82.0" width="5.0" height="3.5" fill="#4000ff" fill-opacity="0.6"/><rect x="892.5" y="85.5" width="2.5" height="5" fill="#ff58b0"/><rect x="892.5" y="82.0" width="2.5" height="3.5" fill="#4000ff" fill-opacity="0.6"/><rect x="898.6" y="85.5" width="16.7" height="5" fill="#ff58b0"/><rect x="898.6" y="82.0" width="16.7" height="3.5" fill="#4000ff" fill-opacity="0.6"/><rect x="935.6" y="85.5" width="2.7" height="5" fill="#ff58b0"/><rect x="935.6" y="82.0" width="2.7" height="3.5" fill="#4000ff" fill-opacity="0.6"/><rect x="940.3" y="85.5" width="3.1" height="5" fill="#ff58b0"/><rect x="940.3" y="82.0" width="3.1" height="3.5" fill="#4000ff" fill-opacity="0.6"/><rect x="1426.7" y="85.5" width="4.3" height="5" fill="#ff58b0"/><rect x="1426.7" y="82.0" width="4.3" height="3.5" fill="#4000ff" fill-opacity="0.6"/><rect x="1435.0" y="85.5" width="2.3" height="5" fill="#ff58b0"/><rect x="1435.0" y="82.0" width="2.3" height="3.5" fill="#4000ff" fill-opacity="0.6"/><rect x="1441.0" y="85.5" width="29.0" height="5" fill="#ff58b0"/><rect x="1441.0" y="82.0" width="29.0" height="3.5" fill="#4000ff" fill-opacity="0.6"/><rect x="1472.0" y="85.5" width="4.0" height="5" fill="#ff58b0"/><rect x="1472.0" y="82.0" width="4.0" height="3.5" fill="#4000ff" fill-opacity="0.6"/><rect x="1482.6" y="85.5" width="3.8" height="5" fill="#ff58b0"/><rect x="1482.6" y="82.0" width="3.8" height="3.5" fill="#4000ff" fill-opacity="0.6"/><rect x="541.6" y="66.0" width="3.7" height="14.5" fill="url(#do)"/><rect x="578.6" y="66.0" width="4.7" height="14.5" fill="url(#dy)"/><rect x="1703.0" y="66.0" width="4.0" height="14.5" fill="url(#do)"/><rect x="1709.0" y="66.0" width="3.0" height="14.5" fill="url(#do)"/><rect x="1715.0" y="66.0" width="4.0" height="14.5" fill="url(#do)"/><rect x="1722.0" y="66.0" width="8.0" height="14.5" fill="url(#do)"/><rect x="1733.0" y="66.0" width="4.0" height="14.5" fill="url(#do)"/><rect x="138.3" y="123.5" width="8.1" height="14.5" fill="url(#dk)"/><rect x="257.8" y="123.5" width="8.2" height="14.5" fill="url(#dk)"/><rect x="377.0" y="123.5" width="8.0" height="14.5" fill="url(#dm)"/><rect x="404.6" y="126.0" width="11.2" height="12" fill="url(#dp)"/><rect x="426.0" y="126.0" width="10.5" height="12" fill="url(#dp)"/><rect x="442.0" y="126.0" width="10.8" height="12" fill="url(#dp)"/><rect x="465.0" y="126.0" width="27.0" height="12" fill="url(#dp)"/><rect x="498.5" y="126.0" width="11.2" height="12" fill="url(#dp)"/><rect x="526.0" y="126.0" width="10.8" height="12" fill="url(#dp)"/><rect x="997.6" y="123.5" width="7.4" height="14.5" fill="url(#dk)"/><rect x="1117.0" y="123.5" width="8.0" height="14.5" fill="url(#dk)"/><rect x="1236.5" y="123.5" width="8.1" height="14.5" fill="url(#dm)"/><rect x="1354.0" y="126.0" width="9.5" height="12" fill="url(#dp)"/><rect x="1475.5" y="126.0" width="8.5" height="12" fill="url(#dp)"/><rect x="1596.0" y="126.0" width="7.0" height="12" fill="url(#dp)"/><rect x="1715.0" y="126.0" width="8.0" height="12" fill="url(#dp)"/><rect x="877.5" y="123.5" width="8.1" height="14.5" fill="url(#dk)"/><rect x="632.5" y="126.0" width="12.2" height="12" fill="url(#dp)"/><rect x="903.0" y="145.0" width="44.6" height="12" fill="url(#dp)"/><rect x="632.5" y="133.5" width="12.2" height="14.5" fill="url(#do)"/><rect x="883.6" y="133.5" width="15.2" height="14.5" fill="url(#do)"/><rect x="903.0" y="133.5" width="44.6" height="14.5" fill="url(#dy)"/><rect x="1346.0" y="133.5" width="12.0" height="14.5" fill="url(#dy)"/><rect x="963.0" y="141.0" width="13.0" height="12" fill="url(#dp)"/><rect x="1361.5" y="141.0" width="4.1" height="12" fill="url(#dp)"/><rect x="1370.6" y="141.0" width="9.4" height="12" fill="url(#dp)"/><rect x="1380.0" y="141.0" width="11.0" height="12" fill="url(#dp)"/><rect x="1398.7" y="141.0" width="7.3" height="12" fill="url(#dp)"/><rect x="1409.5" y="141.0" width="8.1" height="12" fill="url(#dp)"/><rect x="1419.6" y="141.0" width="13.4" height="12" fill="url(#dp)"/><rect x="540.0" y="136.0" width="26.0" height="12" fill="url(#db)"/><rect x="1010.0" y="136.0" width="5.0" height="12" fill="url(#db)"/><rect x="1038.0" y="136.0" width="5.0" height="12" fill="url(#db)"/><rect x="744.0" y="122.5" width="46.0" height="14.5" fill="url(#do)"/><rect x="744.0" y="136.5" width="46.0" height="6" fill="#fffff0"/><rect x="144.8" y="163.5" width="7.7" height="14.5" fill="url(#dy)"/><rect x="264.0" y="163.5" width="8.0" height="14.5" fill="url(#dy)"/><rect x="384.0" y="163.5" width="8.0" height="14.5" fill="url(#dy)"/><rect x="464.0" y="163.5" width="11.0" height="14.5" fill="url(#dy)"/><rect x="579.0" y="163.5" width="8.0" height="14.5" fill="url(#dy)"/><rect x="698.6" y="163.5" width="8.1" height="14.5" fill="url(#dy)"/><rect x="818.0" y="163.5" width="8.0" height="14.5" fill="url(#dy)"/><rect x="938.0" y="163.5" width="8.0" height="14.5" fill="url(#dy)"/><rect x="1057.0" y="163.5" width="8.0" height="14.5" fill="url(#dy)"/><rect x="1177.0" y="163.5" width="8.0" height="14.5" fill="url(#dy)"/><rect x="1296.5" y="163.5" width="8.1" height="14.5" fill="url(#dy)"/><rect x="1416.0" y="163.5" width="7.7" height="14.5" fill="url(#dy)"/><rect x="1535.5" y="163.5" width="7.5" height="14.5" fill="url(#dy)"/><rect x="1655.0" y="163.5" width="8.0" height="14.5" fill="url(#dy)"/><rect x="1704.0" y="163.5" width="11.4" height="14.5" fill="url(#dy)"/><rect x="1735.0" y="163.5" width="12.0" height="14.5" fill="url(#dy)"/><rect x="757.0" y="182.0" width="12.0" height="10" fill="#1a1aff" fill-opacity="0.75"/><rect x="842.0" y="182.0" width="11.0" height="10" fill="#1a1aff" fill-opacity="0.75"/><rect x="919.0" y="182.0" width="6.0" height="10" fill="#1a1aff" fill-opacity="0.75"/><rect x="929.0" y="182.0" width="5.0" height="10" fill="#1a1aff" fill-opacity="0.75"/><rect x="1448.0" y="182.0" width="10.0" height="10" fill="#1a1aff" fill-opacity="0.75"/><rect x="1470.5" y="182.0" width="3.0" height="10" fill="#1a1aff" fill-opacity="0.75"/><rect x="1749.6" y="182.0" width="10.4" height="10" fill="#1a1aff" fill-opacity="0.75"/><rect x="1772.0" y="182.0" width="13.6" height="10" fill="#1a1aff" fill-opacity="0.75"/><rect x="1478.6" y="175.0" width="6.4" height="10" fill="#1a1aff" fill-opacity="0.75"/><rect x="249.0" y="226.5" width="41.8" height="14.5" fill="url(#dk)"/><rect x="316.0" y="226.5" width="45.0" height="14.5" fill="url(#dk)"/><rect x="463.6" y="226.5" width="11.4" height="14.5" fill="url(#dk)"/><rect x="573.5" y="226.5" width="11.5" height="14.5" fill="url(#dk)"/><rect x="607.5" y="226.5" width="12.5" height="14.5" fill="url(#dk)"/><rect x="673.0" y="226.5" width="14.0" height="14.5" fill="url(#dk)"/><rect x="688.0" y="226.5" width="88.0" height="14.5" fill="url(#dk)"/><rect x="923.0" y="226.5" width="34.0" height="14.5" fill="url(#dk)"/><rect x="974.0" y="226.5" width="24.0" height="14.5" fill="url(#dk)"/><rect x="1437.0" y="226.5" width="12.0" height="14.5" fill="url(#dk)"/><rect x="1596.0" y="226.5" width="15.0" height="14.5" fill="url(#dk)"/><rect x="1642.7" y="226.5" width="13.3" height="14.5" fill="url(#dk)"/><rect x="1680.0" y="226.5" width="11.0" height="14.5" fill="url(#dk)"/><rect x="1721.5" y="226.5" width="12.2" height="14.5" fill="url(#dk)"/><rect x="1778.0" y="226.5" width="12.0" height="14.5" fill="url(#dk)"/><rect x="176.5" y="331.0" width="6.5" height="12" fill="url(#dp)"/><rect x="714.0" y="328.5" width="5.0" height="14.5" fill="url(#dm)"/><rect x="733.0" y="328.5" width="7.0" height="14.5" fill="url(#do)"/><rect x="813.0" y="328.5" width="2.0" height="14.5" fill="url(#dk)"/><rect x="1202.0" y="328.5" width="8.0" height="14.5" fill="url(#dy)"/><rect x="1220.0" y="328.5" width="7.0" height="14.5" fill="url(#dy)"/><rect x="1249.0" y="328.5" width="8.0" height="14.5" fill="url(#dw)"/><rect x="1269.0" y="328.5" width="6.0" height="14.5" fill="url(#dy)"/><rect x="1340.0" y="328.5" width="4.0" height="14.5" fill="url(#do)"/><rect x="1352.8" y="328.5" width="4.6" height="14.5" fill="url(#do)"/><rect x="1511.0" y="328.5" width="10.0" height="14.5" fill="url(#dw)"/><rect x="1561.5" y="328.5" width="7.2" height="14.5" fill="url(#dy)"/><rect x="1591.0" y="328.5" width="6.0" height="14.5" fill="url(#dy)"/><rect x="1635.7" y="328.5" width="9.0" height="14.5" fill="url(#dy)"/><rect x="1658.5" y="328.5" width="3.1" height="14.5" fill="url(#do)"/><rect x="1712.0" y="331.0" width="6.5" height="12" fill="url(#dp)"/><rect x="1734.7" y="328.5" width="3.3" height="14.5" fill="url(#dk)"/><rect x="1749.6" y="328.5" width="7.4" height="14.5" fill="url(#dy)"/><rect x="854.0" y="322.0" width="11.0" height="10" fill="#1a1aff" fill-opacity="0.75"/><rect x="1297.5" y="322.0" width="8.1" height="10" fill="#1a1aff" fill-opacity="0.75"/><rect x="770.0" y="333.5" width="9.0" height="14.5" fill="url(#dm)"/><rect x="960.0" y="333.5" width="4.0" height="14.5" fill="url(#dk)"/><rect x="1013.0" y="336.0" width="6.0" height="12" fill="url(#db)"/><rect x="1155.0" y="333.5" width="5.0" height="14.5" fill="url(#dk)"/><rect x="1252.7" y="336.0" width="6.3" height="12" fill="url(#dp)"/><rect x="125.7" y="340.0" width="3.3" height="12" fill="url(#db)"/><rect x="132.6" y="340.0" width="5.7" height="12" fill="url(#db)"/><rect x="151.5" y="340.0" width="7.1" height="12" fill="url(#dp)"/><rect x="251.0" y="340.0" width="5.0" height="12" fill="url(#dp)"/><rect x="295.0" y="340.0" width="5.0" height="12" fill="url(#db)"/><rect x="308.7" y="340.0" width="5.3" height="12" fill="url(#dp)"/><rect x="322.0" y="340.0" width="8.4" height="12" fill="url(#dp)"/><rect x="588.0" y="340.0" width="10.0" height="12" fill="url(#db)"/><rect x="625.0" y="340.0" width="6.5" height="12" fill="url(#db)"/><rect x="644.0" y="340.0" width="6.0" height="12" fill="url(#db)"/><rect x="697.5" y="340.0" width="6.2" height="12" fill="url(#db)"/><rect x="713.0" y="337.5" width="10.0" height="14.5" fill="url(#do)"/><rect x="733.0" y="337.5" width="6.0" height="14.5" fill="url(#do)"/><rect x="745.0" y="337.5" width="8.5" height="14.5" fill="url(#do)"/><rect x="957.0" y="337.5" width="3.0" height="14.5" fill="url(#dk)"/><rect x="877.5" y="340.0" width="16.2" height="12" fill="url(#db)"/><rect x="1298.0" y="340.0" width="10.6" height="12" fill="url(#dp)"/><rect x="1326.0" y="340.0" width="6.0" height="12" fill="url(#db)"/><rect x="1343.0" y="340.0" width="7.0" height="12" fill="url(#dp)"/><rect x="1358.5" y="340.0" width="5.5" height="12" fill="url(#dp)"/><rect x="1455.0" y="340.0" width="4.0" height="12" fill="url(#db)"/><rect x="1508.5" y="340.0" width="5.5" height="12" fill="url(#dp)"/><rect x="1584.0" y="340.0" width="6.0" height="12" fill="url(#db)"/><rect x="1608.7" y="340.0" width="6.3" height="12" fill="url(#dp)"/><rect x="1622.0" y="340.0" width="8.0" height="12" fill="url(#dp)"/><rect x="1637.8" y="340.0" width="6.5" height="12" fill="url(#dp)"/><rect x="1654.0" y="340.0" width="7.6" height="12" fill="url(#dp)"/><rect x="1677.0" y="340.0" width="4.0" height="12" fill="url(#dp)"/><rect x="1686.6" y="340.0" width="5.4" height="12" fill="url(#dp)"/><rect x="1715.4" y="340.0" width="17.3" height="12" fill="url(#dp)"/><rect x="1747.0" y="340.0" width="4.0" height="12" fill="url(#dp)"/><rect x="1768.0" y="340.0" width="7.4" height="12" fill="url(#db)"/><rect x="1789.6" y="340.0" width="5.1" height="12" fill="url(#db)"/><rect x="182.6" y="350.0" width="9.0" height="12" fill="url(#dp)"/><rect x="205.8" y="347.5" width="4.5" height="14.5" fill="url(#dm)"/><rect x="221.0" y="350.0" width="8.0" height="12" fill="url(#dp)"/><rect x="245.0" y="350.0" width="6.0" height="12" fill="url(#dp)"/><rect x="380.6" y="350.0" width="8.8" height="12" fill="url(#dp)"/><rect x="412.0" y="350.0" width="11.0" height="12" fill="url(#dp)"/><rect x="674.0" y="350.0" width="7.0" height="12" fill="url(#dp)"/><rect x="702.6" y="347.5" width="12.2" height="14.5" fill="url(#dy)"/><rect x="716.0" y="350.0" width="3.0" height="12" fill="url(#dp)"/><rect x="724.0" y="347.5" width="4.0" height="14.5" fill="url(#do)"/><rect x="736.0" y="350.0" width="5.0" height="12" fill="url(#dp)"/><rect x="746.0" y="350.0" width="5.4" height="12" fill="url(#dp)"/><rect x="753.0" y="347.5" width="5.5" height="14.5" fill="url(#do)"/><rect x="770.0" y="350.0" width="12.0" height="12" fill="url(#dp)"/><rect x="960.0" y="350.0" width="10.0" height="12" fill="url(#dp)"/><rect x="986.0" y="350.0" width="7.0" height="12" fill="url(#dp)"/><rect x="1049.5" y="347.5" width="5.5" height="14.5" fill="url(#dy)"/><rect x="1065.0" y="350.0" width="8.0" height="12" fill="url(#dp)"/><rect x="1087.7" y="350.0" width="4.3" height="12" fill="url(#dp)"/><rect x="1148.0" y="350.0" width="10.0" height="12" fill="url(#db)"/><rect x="1170.0" y="350.0" width="6.0" height="12" fill="url(#db)"/><rect x="1191.7" y="347.5" width="6.3" height="14.5" fill="url(#do)"/><rect x="1256.0" y="347.5" width="5.0" height="14.5" fill="url(#dk)"/><rect x="1271.0" y="350.0" width="3.0" height="12" fill="url(#dp)"/><rect x="1284.0" y="350.0" width="5.0" height="12" fill="url(#dp)"/><rect x="1398.0" y="350.0" width="10.0" height="12" fill="url(#db)"/><rect x="1424.0" y="350.0" width="7.0" height="12" fill="url(#db)"/><rect x="1453.6" y="350.0" width="5.4" height="12" fill="url(#db)"/><rect x="1498.0" y="347.5" width="11.0" height="14.5" fill="url(#dw)"/><rect x="1518.0" y="347.5" width="4.0" height="14.5" fill="url(#dk)"/><rect x="1540.6" y="347.5" width="6.4" height="14.5" fill="url(#dk)"/><rect x="1564.0" y="347.5" width="5.5" height="14.5" fill="url(#dk)"/><rect x="1757.0" y="347.5" width="4.0" height="14.5" fill="url(#dk)"/><rect x="1777.5" y="350.0" width="5.0" height="12" fill="url(#dp)"/><rect x="135.0" y="355.0" width="5.0" height="12" fill="url(#db)"/><rect x="157.6" y="355.0" width="6.7" height="12" fill="url(#dp)"/><rect x="618.0" y="352.5" width="5.0" height="14.5" fill="url(#dy)"/><rect x="636.5" y="352.5" width="5.5" height="14.5" fill="url(#do)"/><rect x="655.5" y="352.5" width="7.5" height="14.5" fill="url(#do)"/><rect x="691.5" y="352.5" width="6.0" height="14.5" fill="url(#dy)"/><rect x="887.6" y="359.0" width="21.4" height="10" fill="#1a1aff" fill-opacity="0.75"/><rect x="1184.6" y="355.0" width="16.4" height="12" fill="url(#dp)"/><rect x="1215.0" y="355.0" width="8.0" height="12" fill="url(#dp)"/><rect x="1242.0" y="355.0" width="7.0" height="12" fill="url(#dp)"/><rect x="1276.7" y="355.0" width="8.3" height="12" fill="url(#dp)"/><rect x="1304.6" y="359.0" width="10.4" height="10" fill="#1a1aff" fill-opacity="0.75"/><rect x="1396.7" y="359.0" width="8.7" height="10" fill="#1a1aff" fill-opacity="0.75"/><rect x="1438.0" y="359.0" width="6.0" height="10" fill="#1a1aff" fill-opacity="0.75"/><rect x="1478.6" y="359.0" width="6.7" height="10" fill="#1a1aff" fill-opacity="0.75"/><rect x="1551.0" y="359.0" width="7.0" height="10" fill="#1a1aff" fill-opacity="0.75"/><rect x="1781.5" y="355.0" width="5.1" height="12" fill="url(#dp)"/><rect x="955.0" y="365.0" width="5.0" height="12" fill="url(#dp)"/><rect x="960.0" y="365.0" width="4.5" height="12" fill="url(#dp)"/><rect x="985.0" y="365.0" width="2.0" height="12" fill="url(#dp)"/><rect x="990.0" y="365.0" width="10.0" height="12" fill="url(#dp)"/><rect x="1030.0" y="365.0" width="5.6" height="12" fill="url(#dp)"/><rect x="1743.0" y="362.5" width="21.0" height="14.5" fill="url(#dk)"/><rect x="1786.6" y="362.5" width="8.1" height="14.5" fill="url(#dk)"/><rect x="843.0" y="373.0" width="9.0" height="12" fill="url(#dp)"/><rect x="865.0" y="370.5" width="4.0" height="14.5" fill="url(#dk)"/><rect x="1475.5" y="370.5" width="2.1" height="14.5" fill="url(#dk)"/><rect x="1487.0" y="370.5" width="8.5" height="14.5" fill="url(#dm)"/><rect x="1511.7" y="373.0" width="7.3" height="12" fill="url(#dp)"/><rect x="122.0" y="396.5" width="8.0" height="14.5" fill="url(#dk)"/><rect x="150.0" y="396.5" width="18.4" height="14.5" fill="url(#dk)"/><rect x="176.0" y="396.5" width="6.0" height="14.5" fill="url(#dk)"/><rect x="220.6" y="403.0" width="9.2" height="10" fill="#1a1aff" fill-opacity="0.75"/><rect x="270.0" y="396.5" width="5.5" height="14.5" fill="url(#dk)"/><rect x="277.6" y="396.5" width="5.0" height="14.5" fill="url(#dk)"/><rect x="300.5" y="396.5" width="4.9" height="14.5" fill="url(#dk)"/><rect x="401.6" y="403.0" width="4.0" height="10" fill="#1a1aff" fill-opacity="0.75"/><rect x="436.0" y="399.0" width="10.0" height="12" fill="url(#dp)"/><rect x="453.0" y="399.0" width="5.0" height="12" fill="url(#dp)"/><rect x="883.0" y="399.0" width="29.0" height="12" fill="url(#dp)"/><rect x="972.0" y="403.0" width="11.0" height="10" fill="#1a1aff" fill-opacity="0.75"/><rect x="1075.0" y="396.5" width="10.6" height="14.5" fill="url(#dy)"/><rect x="1104.0" y="396.5" width="16.0" height="14.5" fill="url(#dy)"/><rect x="1128.7" y="396.5" width="6.3" height="14.5" fill="url(#do)"/><rect x="1152.0" y="396.5" width="5.6" height="14.5" fill="url(#dk)"/><rect x="1174.0" y="396.5" width="6.0" height="14.5" fill="url(#dk)"/><rect x="1272.0" y="396.5" width="3.7" height="14.5" fill="url(#dk)"/><rect x="1341.0" y="399.0" width="4.0" height="12" fill="url(#dp)"/><rect x="1357.5" y="396.5" width="4.0" height="14.5" fill="url(#dk)"/><rect x="1363.5" y="399.0" width="5.1" height="12" fill="url(#dp)"/><rect x="1387.0" y="403.0" width="6.0" height="10" fill="#1a1aff" fill-opacity="0.75"/><rect x="1398.7" y="396.5" width="5.3" height="14.5" fill="url(#dk)"/><rect x="1409.5" y="396.5" width="15.2" height="14.5" fill="url(#dm)"/><rect x="1461.0" y="396.5" width="7.0" height="14.5" fill="url(#dk)"/><rect x="1479.0" y="399.0" width="2.0" height="12" fill="url(#dp)"/><rect x="1490.4" y="396.5" width="5.6" height="14.5" fill="url(#do)"/><rect x="1531.0" y="396.5" width="2.5" height="14.5" fill="url(#dk)"/><rect x="1545.0" y="396.5" width="3.7" height="14.5" fill="url(#dk)"/><rect x="1625.0" y="396.5" width="14.0" height="14.5" fill="url(#dk)"/><rect x="1648.0" y="403.0" width="4.4" height="10" fill="#1a1aff" fill-opacity="0.75"/><rect x="1749.0" y="396.5" width="4.0" height="14.5" fill="url(#dk)"/><rect x="399.6" y="957.2" width="9.5" height="6" fill="#1000ff" fill-opacity="0.55"/><rect x="922.7" y="959.7" width="5.7" height="6" fill="#1000ff" fill-opacity="0.55"/><rect x="1470.1" y="955.1" width="8.1" height="6" fill="#1000ff" fill-opacity="0.55"/><rect x="518.0" y="952.9" width="4.0" height="6" fill="#1000ff" fill-opacity="0.55"/><rect x="1099.6" y="959.7" width="4.6" height="6" fill="#1000ff" fill-opacity="0.55"/><rect x="511.7" y="947.7" width="5.9" height="6" fill="#1000ff" fill-opacity="0.55"/><rect x="1785.9" y="961.0" width="9.9" height="6" fill="#1000ff" fill-opacity="0.55"/><rect x="1150.5" y="952.3" width="4.3" height="6" fill="#1000ff" fill-opacity="0.55"/><rect x="953.4" y="962.2" width="4.9" height="6" fill="#1000ff" fill-opacity="0.55"/><rect x="738.5" y="960.1" width="5.2" height="6" fill="#1000ff" fill-opacity="0.55"/><rect x="332.9" y="954.3" width="11.4" height="6" fill="#1000ff" fill-opacity="0.55"/><rect x="1044.1" y="954.8" width="6.7" height="6" fill="#1000ff" fill-opacity="0.55"/><rect x="436.2" y="960.9" width="4.3" height="6" fill="#1000ff" fill-opacity="0.55"/><rect x="516.1" y="950.3" width="10.2" height="6" fill="#1000ff" fill-opacity="0.55"/><rect x="1738.0" y="959.1" width="11.2" height="6" fill="#1000ff" fill-opacity="0.55"/><rect x="1395.0" y="958.7" width="8.6" height="6" fill="#1000ff" fill-opacity="0.55"/><rect x="328.9" y="960.2" width="7.8" height="6" fill="#1000ff" fill-opacity="0.55"/><rect x="459.8" y="961.2" width="11.4" height="6" fill="#1000ff" fill-opacity="0.55"/><rect x="807.0" y="954.2" width="6.9" height="6" fill="#1000ff" fill-opacity="0.55"/><rect x="767.3" y="953.2" width="12.0" height="6" fill="#1000ff" fill-opacity="0.55"/><rect x="169.7" y="958.5" width="4.7" height="6" fill="#1000ff" fill-opacity="0.55"/><rect x="1778.1" y="954.9" width="8.0" height="6" fill="#1000ff" fill-opacity="0.55"/><rect x="1041.5" y="950.6" width="10.0" height="6" fill="#1000ff" fill-opacity="0.55"/><rect x="1138.8" y="957.0" width="8.5" height="6" fill="#1000ff" fill-opacity="0.55"/><rect x="425.8" y="952.6" width="5.4" height="6" fill="#1000ff" fill-opacity="0.55"/><rect x="1668.6" y="956.6" width="6.8" height="6" fill="#1000ff" fill-opacity="0.55"/><rect x="635.5" y="948.1" width="4.8" height="6" fill="#1000ff" fill-opacity="0.55"/><rect x="1479.8" y="953.0" width="10.2" height="6" fill="#1000ff" fill-opacity="0.55"/><rect x="1262.8" y="961.4" width="9.4" height="6" fill="#1000ff" fill-opacity="0.55"/><rect x="1720.5" y="962.8" width="7.3" height="6" fill="#1000ff" fill-opacity="0.55"/><rect x="1725.8" y="961.1" width="8.7" height="6" fill="#1000ff" fill-opacity="0.55"/><rect x="942.4" y="951.0" width="7.0" height="6" fill="#1000ff" fill-opacity="0.55"/><rect x="1583.8" y="948.1" width="5.3" height="6" fill="#1000ff" fill-opacity="0.55"/><rect x="1465.8" y="954.7" width="10.2" height="6" fill="#1000ff" fill-opacity="0.55"/><rect x="1518.6" y="951.1" width="4.4" height="6" fill="#1000ff" fill-opacity="0.55"/><rect x="607.6" y="949.7" width="7.4" height="6" fill="#1000ff" fill-opacity="0.55"/><rect x="240.6" y="961.4" width="6.7" height="6" fill="#1000ff" fill-opacity="0.55"/><rect x="1762.4" y="954.7" width="10.0" height="6" fill="#1000ff" fill-opacity="0.55"/><rect x="544.9" y="955.4" width="11.7" height="6" fill="#1000ff" fill-opacity="0.55"/><rect x="1338.1" y="950.4" width="4.2" height="6" fill="#1000ff" fill-opacity="0.55"/><rect x="1520.7" y="961.1" width="10.4" height="6" fill="#1000ff" fill-opacity="0.55"/><rect x="1126.3" y="956.3" width="7.4" height="6" fill="#1000ff" fill-opacity="0.55"/><rect x="1539.2" y="955.5" width="6.5" height="6" fill="#1000ff" fill-opacity="0.55"/><rect x="584.5" y="947.2" width="10.1" height="6" fill="#1000ff" fill-opacity="0.55"/><rect x="1266.0" y="947.4" width="11.6" height="6" fill="#1000ff" fill-opacity="0.55"/><rect x="1113.5" y="960.6" width="9.2" height="6" fill="#1000ff" fill-opacity="0.55"/><rect x="1097.9" y="953.5" width="6.1" height="6" fill="#1000ff" fill-opacity="0.55"/><rect x="1721.3" y="949.1" width="11.2" height="6" fill="#1000ff" fill-opacity="0.55"/><rect x="282.9" y="947.4" width="4.8" height="6" fill="#1000ff" fill-opacity="0.55"/><rect x="359.5" y="957.5" width="10.9" height="6" fill="#1000ff" fill-opacity="0.55"/><rect x="335.7" y="952.2" width="8.3" height="6" fill="#1000ff" fill-opacity="0.55"/><rect x="947.3" y="949.7" width="5.8" height="6" fill="#1000ff" fill-opacity="0.55"/><rect x="431.3" y="958.4" width="7.0" height="6" fill="#1000ff" fill-opacity="0.55"/><rect x="1040.8" y="958.4" width="4.4" height="6" fill="#1000ff" fill-opacity="0.55"/><rect x="1580.0" y="959.7" width="10.2" height="6" fill="#1000ff" fill-opacity="0.55"/><rect x="138.0" y="948.0" width="7.7" height="6" fill="#1000ff" fill-opacity="0.55"/><rect x="1396.9" y="958.4" width="5.4" height="6" fill="#1000ff" fill-opacity="0.55"/><rect x="546.1" y="952.0" width="9.6" height="6" fill="#1000ff" fill-opacity="0.55"/><rect x="194.8" y="952.0" width="7.1" height="6" fill="#1000ff" fill-opacity="0.55"/><rect x="1624.8" y="955.0" width="6.4" height="6" fill="#1000ff" fill-opacity="0.55"/><rect x="1039.6" y="948.6" width="11.6" height="6" fill="#1000ff" fill-opacity="0.55"/><rect x="1126.0" y="958.8" width="8.1" height="6" fill="#1000ff" fill-opacity="0.55"/><rect x="1735.2" y="958.2" width="6.5" height="6" fill="#1000ff" fill-opacity="0.55"/><rect x="1000.4" y="948.0" width="8.5" height="6" fill="#1000ff" fill-opacity="0.55"/><rect x="1481.5" y="952.7" width="11.8" height="6" fill="#1000ff" fill-opacity="0.55"/><rect x="654.6" y="948.7" width="11.9" height="6" fill="#1000ff" fill-opacity="0.55"/><rect x="251.7" y="960.0" width="4.6" height="6" fill="#1000ff" fill-opacity="0.55"/><rect x="1390.3" y="956.9" width="7.6" height="6" fill="#1000ff" fill-opacity="0.55"/><rect x="157.9" y="954.1" width="9.2" height="6" fill="#1000ff" fill-opacity="0.55"/></g><rect x="869.5" y="51" width="5.5" height="924" fill="#000003"/><rect x="1693" y="51" width="5" height="924" fill="#000003"/><g filter="url(#dblur)"><rect x="869.7" y="153" width="4.6" height="5" fill="#2010ff"/><rect x="869.7" y="157" width="4.6" height="15" fill="#9020f0"/><rect x="869.7" y="158" width="4.6" height="6" fill="#e050c0"/><rect x="869.7" y="177" width="4.6" height="5" fill="#2010ff"/><rect x="869.7" y="181.5" width="4.6" height="4" fill="#ff8070"/><rect x="869.7" y="185.5" width="4.6" height="7.5" fill="#fffff0"/><rect x="869.7" y="193" width="4.6" height="3" fill="#2010ff"/><rect x="869.7" y="202" width="4.6" height="4" fill="#1808e0"/><rect x="1693.2" y="153" width="4.6" height="5" fill="#2010ff"/><rect x="1693.2" y="157" width="4.6" height="15" fill="#9020f0"/><rect x="1693.2" y="158" width="4.6" height="6" fill="#e050c0"/><rect x="1693.2" y="177" width="4.6" height="5" fill="#2010ff"/><rect x="1693.2" y="181.5" width="4.6" height="4" fill="#ff8070"/><rect x="1693.2" y="185.5" width="4.6" height="7.5" fill="#fffff0"/><rect x="1693.2" y="193" width="4.6" height="3" fill="#2010ff"/><rect x="1693.2" y="202" width="4.6" height="4" fill="#1808e0"/></g></g><rect x="121.5" y="51.5" width="1674" height="924" fill="none" stroke="#000" stroke-width="1.15"/><line x1="121.00" y1="975" x2="121.00" y2="981" stroke="#000" stroke-width="1.2"/><text x="121.30" y="1009.8" font-size="31.5" font-family="'Liberation Sans', sans-serif" stroke="#000" stroke-width="0.3" text-anchor="middle" textLength="85" lengthAdjust="spacingAndGlyphs">05:45</text><line x1="232.67" y1="975" x2="232.67" y2="981" stroke="#000" stroke-width="1.2"/><text x="232.97" y="1009.8" font-size="31.5" font-family="'Liberation Sans', sans-serif" stroke="#000" stroke-width="0.3" text-anchor="middle" textLength="85" lengthAdjust="spacingAndGlyphs">05:46</text><line x1="344.33" y1="975" x2="344.33" y2="981" stroke="#000" stroke-width="1.2"/><text x="344.63" y="1009.8" font-size="31.5" font-family="'Liberation Sans', sans-serif" stroke="#000" stroke-width="0.3" text-anchor="middle" textLength="85" lengthAdjust="spacingAndGlyphs">05:47</text><line x1="456.00" y1="975" x2="456.00" y2="981" stroke="#000" stroke-width="1.2"/><text x="456.30" y="1009.8" font-size="31.5" font-family="'Liberation Sans', sans-serif" stroke="#000" stroke-width="0.3" text-anchor="middle" textLength="85" lengthAdjust="spacingAndGlyphs">05:48</text><line x1="567.67" y1="975" x2="567.67" y2="981" stroke="#000" stroke-width="1.2"/><text x="567.97" y="1009.8" font-size="31.5" font-family="'Liberation Sans', sans-serif" stroke="#000" stroke-width="0.3" text-anchor="middle" textLength="85" lengthAdjust="spacingAndGlyphs">05:49</text><line x1="679.33" y1="975" x2="679.33" y2="981" stroke="#000" stroke-width="1.2"/><text x="679.63" y="1009.8" font-size="31.5" font-family="'Liberation Sans', sans-serif" stroke="#000" stroke-width="0.3" text-anchor="middle" textLength="85" lengthAdjust="spacingAndGlyphs">05:50</text><line x1="791.00" y1="975" x2="791.00" y2="981" stroke="#000" stroke-width="1.2"/><text x="791.30" y="1009.8" font-size="31.5" font-family="'Liberation Sans', sans-serif" stroke="#000" stroke-width="0.3" text-anchor="middle" textLength="85" lengthAdjust="spacingAndGlyphs">05:51</text><line x1="902.67" y1="975" x2="902.67" y2="981" stroke="#000" stroke-width="1.2"/><text x="902.97" y="1009.8" font-size="31.5" font-family="'Liberation Sans', sans-serif" stroke="#000" stroke-width="0.3" text-anchor="middle" textLength="85" lengthAdjust="spacingAndGlyphs">05:52</text><line x1="1014.33" y1="975" x2="1014.33" y2="981" stroke="#000" stroke-width="1.2"/><text x="1014.63" y="1009.8" font-size="31.5" font-family="'Liberation Sans', sans-serif" stroke="#000" stroke-width="0.3" text-anchor="middle" textLength="85" lengthAdjust="spacingAndGlyphs">05:53</text><line x1="1126.00" y1="975" x2="1126.00" y2="981" stroke="#000" stroke-width="1.2"/><text x="1126.30" y="1009.8" font-size="31.5" font-family="'Liberation Sans', sans-serif" stroke="#000" stroke-width="0.3" text-anchor="middle" textLength="85" lengthAdjust="spacingAndGlyphs">05:54</text><line x1="1237.67" y1="975" x2="1237.67" y2="981" stroke="#000" stroke-width="1.2"/><text x="1237.97" y="1009.8" font-size="31.5" font-family="'Liberation Sans', sans-serif" stroke="#000" stroke-width="0.3" text-anchor="middle" textLength="85" lengthAdjust="spacingAndGlyphs">05:55</text><line x1="1349.33" y1="975" x2="1349.33" y2="981" stroke="#000" stroke-width="1.2"/><text x="1349.63" y="1009.8" font-size="31.5" font-family="'Liberation Sans', sans-serif" stroke="#000" stroke-width="0.3" text-anchor="middle" textLength="85" lengthAdjust="spacingAndGlyphs">05:56</text><line x1="1461.00" y1="975" x2="1461.00" y2="981" stroke="#000" stroke-width="1.2"/><text x="1461.30" y="1009.8" font-size="31.5" font-family="'Liberation Sans', sans-serif" stroke="#000" stroke-width="0.3" text-anchor="middle" textLength="85" lengthAdjust="spacingAndGlyphs">05:57</text><line x1="1572.67" y1="975" x2="1572.67" y2="981" stroke="#000" stroke-width="1.2"/><text x="1572.97" y="1009.8" font-size="31.5" font-family="'Liberation Sans', sans-serif" stroke="#000" stroke-width="0.3" text-anchor="middle" textLength="85" lengthAdjust="spacingAndGlyphs">05:58</text><line x1="1684.33" y1="975" x2="1684.33" y2="981" stroke="#000" stroke-width="1.2"/><text x="1684.63" y="1009.8" font-size="31.5" font-family="'Liberation Sans', sans-serif" stroke="#000" stroke-width="0.3" text-anchor="middle" textLength="85" lengthAdjust="spacingAndGlyphs">05:59</text><line x1="115" y1="858.49" x2="121" y2="858.49" stroke="#000" stroke-width="1.2"/><text x="107.2" y="869.59" font-size="31.5" font-family="'Liberation Sans', sans-serif" stroke="#000" stroke-width="0.3" text-anchor="end" textLength="36.90" lengthAdjust="spacingAndGlyphs">60</text><line x1="115" y1="704.68" x2="121" y2="704.68" stroke="#000" stroke-width="1.2"/><text x="107.2" y="715.78" font-size="31.5" font-family="'Liberation Sans', sans-serif" stroke="#000" stroke-width="0.3" text-anchor="end" textLength="36.90" lengthAdjust="spacingAndGlyphs">80</text><line x1="115" y1="550.88" x2="121" y2="550.88" stroke="#000" stroke-width="1.2"/><text x="107.2" y="561.98" font-size="31.5" font-family="'Liberation Sans', sans-serif" stroke="#000" stroke-width="0.3" text-anchor="end" textLength="55.35" lengthAdjust="spacingAndGlyphs">100</text><line x1="115" y1="397.07" x2="121" y2="397.07" stroke="#000" stroke-width="1.2"/><text x="107.2" y="408.17" font-size="31.5" font-family="'Liberation Sans', sans-serif" stroke="#000" stroke-width="0.3" text-anchor="end" textLength="55.35" lengthAdjust="spacingAndGlyphs">120</text><line x1="115" y1="243.26" x2="121" y2="243.26" stroke="#000" stroke-width="1.2"/><text x="107.2" y="254.36" font-size="31.5" font-family="'Liberation Sans', sans-serif" stroke="#000" stroke-width="0.3" text-anchor="end" textLength="55.35" lengthAdjust="spacingAndGlyphs">140</text><line x1="115" y1="89.45" x2="121" y2="89.45" stroke="#000" stroke-width="1.2"/><text x="107.2" y="100.55" font-size="31.5" font-family="'Liberation Sans', sans-serif" stroke="#000" stroke-width="0.3" text-anchor="end" textLength="55.35" lengthAdjust="spacingAndGlyphs">160</text><text x="233.5" y="40.7" font-size="37.8" font-family="'Liberation Sans', sans-serif" stroke="#000" stroke-width="0.3" textLength="208" lengthAdjust="spacingAndGlyphs">2026/01/25</text><text x="470" y="40.7" font-size="37.8" font-family="'Liberation Sans', sans-serif" stroke="#000" stroke-width="0.3" textLength="1209" lengthAdjust="spacingAndGlyphs">Radio flux density, e-CALLISTO (EGYPT-Alexandria), Focuscode: 01</text><text x="957.2" y="1049" font-size="34.3" font-family="'Liberation Sans', sans-serif" stroke="#000" stroke-width="0.3" text-anchor="middle" textLength="391" lengthAdjust="spacingAndGlyphs">Observation time [UTC]</text><text x="0" y="0" transform="translate(36.8,513.7) rotate(-90)" font-size="34.3" font-family="'Liberation Sans', sans-serif" stroke="#000" stroke-width="0.3" text-anchor="middle" textLength="278" lengthAdjust="spacingAndGlyphs">Frequency [MHz]</text><rect x="1935.5" y="27.2" width="43.0" height="959.8" fill="url(#cbar)" stroke="#000" stroke-width="1.2"/><line x1="1978.5" y1="987.00" x2="1984.5" y2="987.00" stroke="#000" stroke-width="1.2"/><text x="1991" y="992.60" font-size="16.3" font-family="'Liberation Sans', sans-serif" stroke="#000" stroke-width="0.3" textLength="22.10" lengthAdjust="spacingAndGlyphs">−2</text><line x1="1978.5" y1="874.08" x2="1984.5" y2="874.08" stroke="#000" stroke-width="1.2"/><text x="1991" y="879.68" font-size="16.3" font-family="'Liberation Sans', sans-serif" stroke="#000" stroke-width="0.3" textLength="9.50" lengthAdjust="spacingAndGlyphs">0</text><line x1="1978.5" y1="761.16" x2="1984.5" y2="761.16" stroke="#000" stroke-width="1.2"/><text x="1991" y="766.76" font-size="16.3" font-family="'Liberation Sans', sans-serif" stroke="#000" stroke-width="0.3" textLength="9.50" lengthAdjust="spacingAndGlyphs">2</text><line x1="1978.5" y1="648.25" x2="1984.5" y2="648.25" stroke="#000" stroke-width="1.2"/><text x="1991" y="653.85" font-size="16.3" font-family="'Liberation Sans', sans-serif" stroke="#000" stroke-width="0.3" textLength="9.50" lengthAdjust="spacingAndGlyphs">4</text><line x1="1978.5" y1="535.33" x2="1984.5" y2="535.33" stroke="#000" stroke-width="1.2"/><text x="1991" y="540.93" font-size="16.3" font-family="'Liberation Sans', sans-serif" stroke="#000" stroke-width="0.3" textLength="9.50" lengthAdjust="spacingAndGlyphs">6</text><line x1="1978.5" y1="422.41" x2="1984.5" y2="422.41" stroke="#000" stroke-width="1.2"/><text x="1991" y="428.01" font-size="16.3" font-family="'Liberation Sans', sans-serif" stroke="#000" stroke-width="0.3" textLength="9.50" lengthAdjust="spacingAndGlyphs">8</text><line x1="1978.5" y1="309.49" x2="1984.5" y2="309.49" stroke="#000" stroke-width="1.2"/><text x="1991" y="315.09" font-size="16.3" font-family="'Liberation Sans', sans-serif" stroke="#000" stroke-width="0.3" textLength="19.00" lengthAdjust="spacingAndGlyphs">10</text><line x1="1978.5" y1="196.58" x2="1984.5" y2="196.58" stroke="#000" stroke-width="1.2"/><text x="1991" y="202.18" font-size="16.3" font-family="'Liberation Sans', sans-serif" stroke="#000" stroke-width="0.3" textLength="19.00" lengthAdjust="spacingAndGlyphs">12</text><line x1="1978.5" y1="83.66" x2="1984.5" y2="83.66" stroke="#000" stroke-width="1.2"/><text x="1991" y="89.26" font-size="16.3" font-family="'Liberation Sans', sans-serif" stroke="#000" stroke-width="0.3" textLength="19.00" lengthAdjust="spacingAndGlyphs">14</text><text x="0" y="0" transform="translate(2046,507) rotate(-90)" font-size="34.3" font-family="'Liberation Sans', sans-serif" stroke="#000" stroke-width="0.3" text-anchor="middle" textLength="364" lengthAdjust="spacingAndGlyphs">dB above background</text></svg>
</body></html>
